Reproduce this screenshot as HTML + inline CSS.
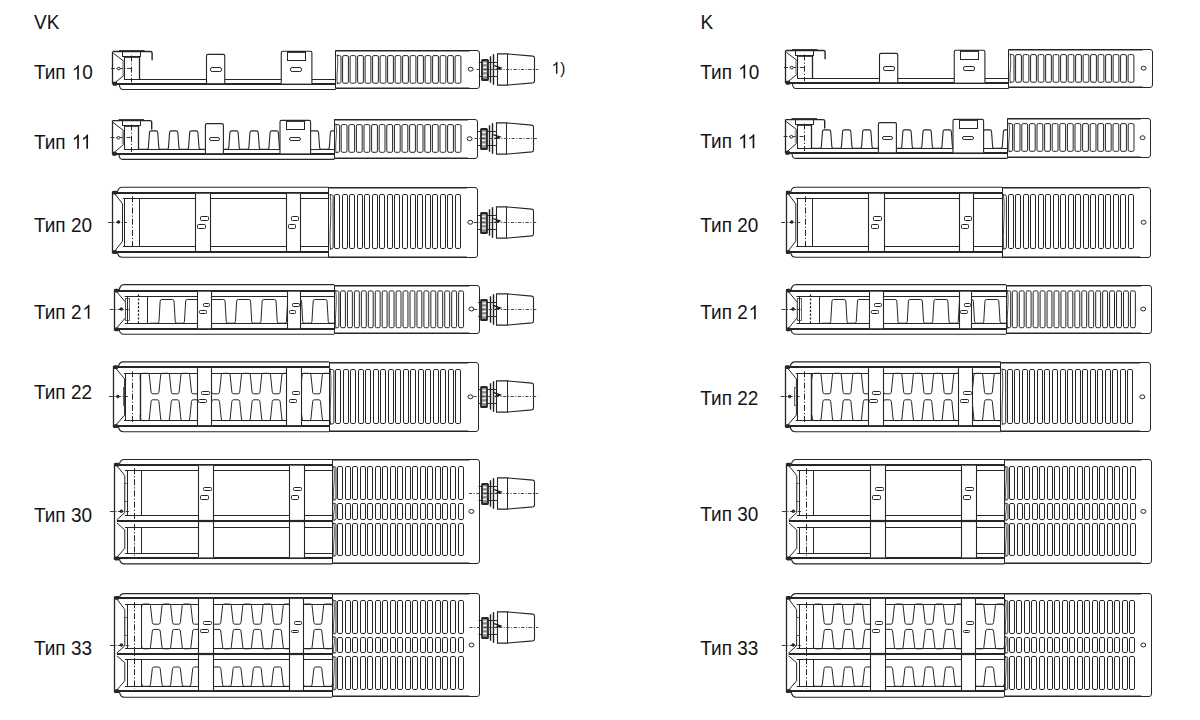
<!DOCTYPE html>
<html><head><meta charset="utf-8"><style>
html,body{margin:0;padding:0;background:#fff;}
body{width:1200px;height:720px;overflow:hidden;}
svg{display:block;}
text{font-family:"Liberation Sans",sans-serif;fill:#141414;}
</style></head><body>
<svg width="1200" height="720" viewBox="0 0 1200 720">
<line x1="124.4" y1="79.5" x2="335.8" y2="79.5" stroke="#262626" stroke-width="1.1"/>
<line x1="113.9" y1="84" x2="335.8" y2="84" stroke="#262626" stroke-width="2.2"/>
<path d="M119.4,84.7 Q119.9,89.5 122.9,89.5 L335.8,89.5" fill="none" stroke="#262626" stroke-width="1.1"/>
<rect x="112.6" y="81.7" width="4.5" height="4" rx="1" fill="#262626" stroke="#262626" stroke-width="0"/>
<line x1="112.5" y1="51.5" x2="112.5" y2="84.2" stroke="#262626" stroke-width="1.3"/>
<path d="M112.9,51.5 L150.5,51.5 Q152.1,51.5 152.1,53.1 L152.1,60.3" fill="none" stroke="#262626" stroke-width="1.4"/>
<line x1="119" y1="51" x2="144.5" y2="51" stroke="#262626" stroke-width="1.8"/>
<rect x="122.5" y="51.5" width="18" height="5" rx="0" fill="none" stroke="#262626" stroke-width="1"/>
<line x1="124.5" y1="57" x2="139.2" y2="57" stroke="#262626" stroke-width="1.7"/>
<line x1="124.5" y1="57" x2="124.5" y2="79.8" stroke="#262626" stroke-width="1"/>
<line x1="139.5" y1="57" x2="139.5" y2="79.8" stroke="#262626" stroke-width="1.3"/>
<line x1="131.5" y1="55.5" x2="131.5" y2="82.3" stroke="#262626" stroke-width="1" stroke-dasharray="6 2 1.2 2"/>
<path d="M113.5,53.4 L124,61.4 L124,75.3 L114.2,83.3" fill="none" stroke="#262626" stroke-width="1"/>
<rect x="122.1" y="61.5" width="1.8" height="13.5" fill="#aaa"/>
<line x1="111" y1="68.5" x2="131" y2="68.5" stroke="#262626" stroke-width="0.9" stroke-dasharray="4 1.5 1 1.5"/>
<ellipse cx="118.8" cy="68.6" rx="1.5" ry="1.3" fill="#fff" stroke="#262626" stroke-width="1"/>
<rect x="206.5" y="54.4" width="18.25" height="28.8" fill="#fff" stroke="none"/>
<path d="M206.5,83.2 L206.5,55.9 Q206.5,54.4 208,54.4 L223.25,54.4 Q224.75,54.4 224.75,55.9 L224.75,83.2" fill="none" stroke="#262626" stroke-width="1.1"/>
<rect x="210.5" y="67.5" width="11" height="4" rx="1.6" fill="none" stroke="#262626" stroke-width="1"/>
<rect x="281.25" y="51.25" width="30.65" height="32.35" fill="#fff" stroke="none"/>
<path d="M281.25,83.6 L281.25,52.75 Q281.25,51.25 282.75,51.25 L310.4,51.25 Q311.9,51.25 311.9,52.75 L311.9,83.6" fill="none" stroke="#262626" stroke-width="1.1"/>
<rect x="287.5" y="51.5" width="18" height="9" rx="0" fill="none" stroke="#262626" stroke-width="1"/>
<line x1="287.5" y1="52" x2="305" y2="52" stroke="#262626" stroke-width="1.8"/>
<rect x="290.5" y="67.5" width="11" height="4" rx="1.6" fill="none" stroke="#262626" stroke-width="1"/>
<path d="M335.5,50.5 L477,50.5 Q479.5,50.5 479.5,53 L479.5,86 Q479.5,88.5 477,88.5 L335.5,88.5 Z" fill="#fff" stroke="#262626" stroke-width="1"/>
<line x1="335.8" y1="50.8" x2="469.7" y2="50.8" stroke="#262626" stroke-width="1.4"/>
<line x1="335.8" y1="88.2" x2="469.7" y2="88.2" stroke="#262626" stroke-width="1.4"/>
<path d="M337,55.6 L339.5,55.6 Q341,55.6 341,57.1 L341,81.7 Q341,83.2 339.5,83.2 L337,83.2" fill="none" stroke="#262626" stroke-width="1"/>
<path d="M337,54.6 C339.2,63.88 335.8,74.92 337.4,84.2" fill="none" stroke="#333" stroke-width="0.9"/>
<rect x="342.6" y="55.6" width="5.8" height="27.6" rx="1.4" fill="none" stroke="#262626" stroke-width="1"/>
<rect x="350.1" y="55.6" width="5.8" height="27.6" rx="1.4" fill="none" stroke="#262626" stroke-width="1"/>
<rect x="357.6" y="55.6" width="5.8" height="27.6" rx="1.4" fill="none" stroke="#262626" stroke-width="1"/>
<rect x="365.1" y="55.6" width="5.8" height="27.6" rx="1.4" fill="none" stroke="#262626" stroke-width="1"/>
<rect x="372.6" y="55.6" width="5.8" height="27.6" rx="1.4" fill="none" stroke="#262626" stroke-width="1"/>
<rect x="380.1" y="55.6" width="5.8" height="27.6" rx="1.4" fill="none" stroke="#262626" stroke-width="1"/>
<rect x="387.6" y="55.6" width="5.8" height="27.6" rx="1.4" fill="none" stroke="#262626" stroke-width="1"/>
<rect x="395.1" y="55.6" width="5.8" height="27.6" rx="1.4" fill="none" stroke="#262626" stroke-width="1"/>
<rect x="402.6" y="55.6" width="5.8" height="27.6" rx="1.4" fill="none" stroke="#262626" stroke-width="1"/>
<rect x="410.1" y="55.6" width="5.8" height="27.6" rx="1.4" fill="none" stroke="#262626" stroke-width="1"/>
<rect x="417.6" y="55.6" width="5.8" height="27.6" rx="1.4" fill="none" stroke="#262626" stroke-width="1"/>
<rect x="425.1" y="55.6" width="5.8" height="27.6" rx="1.4" fill="none" stroke="#262626" stroke-width="1"/>
<rect x="432.6" y="55.6" width="5.8" height="27.6" rx="1.4" fill="none" stroke="#262626" stroke-width="1"/>
<rect x="440.1" y="55.6" width="5.8" height="27.6" rx="1.4" fill="none" stroke="#262626" stroke-width="1"/>
<rect x="447.6" y="55.6" width="5.8" height="27.6" rx="1.4" fill="none" stroke="#262626" stroke-width="1"/>
<rect x="455.1" y="55.6" width="5.8" height="27.6" rx="1.4" fill="none" stroke="#262626" stroke-width="1"/>
<ellipse cx="470.6" cy="69.2" rx="2.5" ry="1.95" fill="none" stroke="#262626" stroke-width="1"/>
<line x1="124" y1="149.5" x2="334.5" y2="149.5" stroke="#262626" stroke-width="1.1"/>
<line x1="113.5" y1="154" x2="334.5" y2="154" stroke="#262626" stroke-width="2.2"/>
<path d="M119,154.7 Q119.5,159.4 122.5,159.4 L334.5,159.4" fill="none" stroke="#262626" stroke-width="1.1"/>
<rect x="112.2" y="151.7" width="4.5" height="4" rx="1" fill="#262626" stroke="#262626" stroke-width="0"/>
<line x1="112.5" y1="120.6" x2="112.5" y2="154.2" stroke="#262626" stroke-width="1.3"/>
<path d="M112.5,120.6 L150.1,120.6 Q151.7,120.6 151.7,122.2 L151.7,129.4" fill="none" stroke="#262626" stroke-width="1.4"/>
<line x1="118.6" y1="120" x2="144.1" y2="120" stroke="#262626" stroke-width="1.8"/>
<rect x="122.5" y="120.5" width="18" height="5" rx="0" fill="none" stroke="#262626" stroke-width="1"/>
<line x1="124.1" y1="126" x2="138.8" y2="126" stroke="#262626" stroke-width="1.7"/>
<line x1="124.5" y1="126.1" x2="124.5" y2="149.4" stroke="#262626" stroke-width="1"/>
<line x1="138.5" y1="126.1" x2="138.5" y2="149.4" stroke="#262626" stroke-width="1.3"/>
<line x1="131.5" y1="124.6" x2="131.5" y2="151.9" stroke="#262626" stroke-width="1" stroke-dasharray="6 2 1.2 2"/>
<path d="M113.1,122.5 L123.6,130.5 L123.6,144.4 L113.8,152.9" fill="none" stroke="#262626" stroke-width="1"/>
<rect x="121.7" y="130.6" width="1.8" height="13.5" fill="#aaa"/>
<line x1="110.6" y1="137.5" x2="130.6" y2="137.5" stroke="#262626" stroke-width="0.9" stroke-dasharray="4 1.5 1 1.5"/>
<ellipse cx="118.4" cy="137.8" rx="1.5" ry="1.3" fill="#fff" stroke="#262626" stroke-width="1"/>
<path d="M138.85,149.4 L146.65,149.4 Q148.25,149.4 148.37,147.8 L149.48,132.5 Q149.6,130.9 151.2,130.9 L156,130.9 Q157.6,130.9 157.72,132.5 L158.83,147.8 Q158.95,149.4 160.55,149.4 L166.75,149.4 Q168.35,149.4 168.47,147.8 L169.58,132.5 Q169.7,130.9 171.3,130.9 L176.1,130.9 Q177.7,130.9 177.82,132.5 L178.93,147.8 Q179.05,149.4 180.65,149.4 L186.85,149.4 Q188.45,149.4 188.57,147.8 L189.68,132.5 Q189.8,130.9 191.4,130.9 L196.2,130.9 Q197.8,130.9 197.92,132.5 L199.03,147.8 Q199.15,149.4 200.75,149.4 L206.95,149.4 Q208.55,149.4 208.67,147.8 L209.78,132.5 Q209.9,130.9 211.5,130.9 L216.3,130.9 Q217.9,130.9 218.02,132.5 L219.13,147.8 Q219.25,149.4 220.85,149.4 L227.05,149.4 Q228.65,149.4 228.77,147.8 L229.88,132.5 Q230,130.9 231.6,130.9 L236.4,130.9 Q238,130.9 238.12,132.5 L239.23,147.8 Q239.35,149.4 240.95,149.4 L247.15,149.4 Q248.75,149.4 248.87,147.8 L249.98,132.5 Q250.1,130.9 251.7,130.9 L256.5,130.9 Q258.1,130.9 258.22,132.5 L259.33,147.8 Q259.45,149.4 261.05,149.4 L267.25,149.4 Q268.85,149.4 268.97,147.8 L270.08,132.5 Q270.2,130.9 271.8,130.9 L276.6,130.9 Q278.2,130.9 278.32,132.5 L279.43,147.8 Q279.55,149.4 281.15,149.4 L287.35,149.4 Q288.95,149.4 289.07,147.8 L290.18,132.5 Q290.3,130.9 291.9,130.9 L296.7,130.9 Q298.3,130.9 298.42,132.5 L299.53,147.8 Q299.65,149.4 301.25,149.4 L307.45,149.4 Q309.05,149.4 309.17,147.8 L310.28,132.5 Q310.4,130.9 312,130.9 L316.8,130.9 Q318.4,130.9 318.52,132.5 L319.63,147.8 Q319.75,149.4 321.35,149.4 L327.55,149.4 Q329.15,149.4 329.27,147.8 L330.38,132.5 Q330.5,130.9 332.1,130.9 L334.5,130.9" fill="none" stroke="#262626" stroke-width="1.1"/>
<rect x="205.4" y="123.6" width="18" height="29.6" fill="#fff" stroke="none"/>
<path d="M205.4,153.2 L205.4,125.1 Q205.4,123.6 206.9,123.6 L221.9,123.6 Q223.4,123.6 223.4,125.1 L223.4,153.2" fill="none" stroke="#262626" stroke-width="1.1"/>
<rect x="209.5" y="137.5" width="10" height="3" rx="1.6" fill="none" stroke="#262626" stroke-width="1"/>
<rect x="280" y="120.4" width="30.6" height="33" fill="#fff" stroke="none"/>
<path d="M280,153.4 L280,121.9 Q280,120.4 281.5,120.4 L309.1,120.4 Q310.6,120.4 310.6,121.9 L310.6,153.4" fill="none" stroke="#262626" stroke-width="1.1"/>
<rect x="286.5" y="120.5" width="18" height="9" rx="0" fill="none" stroke="#262626" stroke-width="1"/>
<line x1="286.6" y1="121" x2="304" y2="121" stroke="#262626" stroke-width="1.8"/>
<rect x="289.5" y="137.5" width="11" height="3" rx="1.6" fill="none" stroke="#262626" stroke-width="1"/>
<path d="M334.5,119.5 L475,119.5 Q477.5,119.5 477.5,122 L477.5,156 Q477.5,158.5 475,158.5 L334.5,158.5 Z" fill="#fff" stroke="#262626" stroke-width="1"/>
<line x1="334.5" y1="119.8" x2="467.8" y2="119.8" stroke="#262626" stroke-width="1.4"/>
<line x1="334.5" y1="158.2" x2="467.8" y2="158.2" stroke="#262626" stroke-width="1.4"/>
<path d="M335.7,124.6 L338.1,124.6 Q339.6,124.6 339.6,126.1 L339.6,150.8 Q339.6,152.3 338.1,152.3 L335.7,152.3" fill="none" stroke="#262626" stroke-width="1"/>
<path d="M335.7,123.6 C337.9,132.91 334.5,143.99 336.1,153.3" fill="none" stroke="#333" stroke-width="0.9"/>
<rect x="341.2" y="124.6" width="5.8" height="27.7" rx="1.4" fill="none" stroke="#262626" stroke-width="1"/>
<rect x="348.8" y="124.6" width="5.8" height="27.7" rx="1.4" fill="none" stroke="#262626" stroke-width="1"/>
<rect x="356.4" y="124.6" width="5.8" height="27.7" rx="1.4" fill="none" stroke="#262626" stroke-width="1"/>
<rect x="364" y="124.6" width="5.8" height="27.7" rx="1.4" fill="none" stroke="#262626" stroke-width="1"/>
<rect x="371.6" y="124.6" width="5.8" height="27.7" rx="1.4" fill="none" stroke="#262626" stroke-width="1"/>
<rect x="379.2" y="124.6" width="5.8" height="27.7" rx="1.4" fill="none" stroke="#262626" stroke-width="1"/>
<rect x="386.8" y="124.6" width="5.8" height="27.7" rx="1.4" fill="none" stroke="#262626" stroke-width="1"/>
<rect x="394.4" y="124.6" width="5.8" height="27.7" rx="1.4" fill="none" stroke="#262626" stroke-width="1"/>
<rect x="402" y="124.6" width="5.8" height="27.7" rx="1.4" fill="none" stroke="#262626" stroke-width="1"/>
<rect x="409.6" y="124.6" width="5.8" height="27.7" rx="1.4" fill="none" stroke="#262626" stroke-width="1"/>
<rect x="417.2" y="124.6" width="5.8" height="27.7" rx="1.4" fill="none" stroke="#262626" stroke-width="1"/>
<rect x="424.8" y="124.6" width="5.8" height="27.7" rx="1.4" fill="none" stroke="#262626" stroke-width="1"/>
<rect x="432.4" y="124.6" width="5.8" height="27.7" rx="1.4" fill="none" stroke="#262626" stroke-width="1"/>
<rect x="440" y="124.6" width="5.8" height="27.7" rx="1.4" fill="none" stroke="#262626" stroke-width="1"/>
<rect x="447.6" y="124.6" width="5.8" height="27.7" rx="1.4" fill="none" stroke="#262626" stroke-width="1"/>
<rect x="455.2" y="124.6" width="5.8" height="27.7" rx="1.4" fill="none" stroke="#262626" stroke-width="1"/>
<ellipse cx="469.6" cy="138.7" rx="2.5" ry="1.95" fill="none" stroke="#262626" stroke-width="1"/>
<path d="M117.4,192.75 Q117.9,187.3 122.4,187.3 L328.9,187.3" fill="none" stroke="#262626" stroke-width="1.1"/>
<path d="M117.4,252 Q117.9,257.3 122.4,257.3 L328.9,257.3" fill="none" stroke="#262626" stroke-width="1.1"/>
<line x1="114.9" y1="193" x2="328.9" y2="193" stroke="#262626" stroke-width="2.2"/>
<line x1="114.9" y1="252" x2="328.9" y2="252" stroke="#262626" stroke-width="2.2"/>
<line x1="122.9" y1="198.5" x2="328.9" y2="198.5" stroke="#262626" stroke-width="1"/>
<line x1="122.9" y1="246.5" x2="328.9" y2="246.5" stroke="#262626" stroke-width="1"/>
<line x1="112.5" y1="191.25" x2="112.5" y2="253.5" stroke="#262626" stroke-width="1.3"/>
<rect x="112.7" y="190.75" width="4.5" height="3.8" rx="1.2" fill="#262626" stroke="#262626" stroke-width="0"/>
<rect x="112.7" y="250.2" width="4.5" height="3.8" rx="1.2" fill="#262626" stroke="#262626" stroke-width="0"/>
<path d="M114.4,193.25 L122.5,203.8 L122.5,241.2 L114.4,251.5" fill="none" stroke="#262626" stroke-width="1"/>
<line x1="124.5" y1="198.3" x2="124.5" y2="246.7" stroke="#262626" stroke-width="1"/>
<line x1="132.5" y1="196.3" x2="132.5" y2="249.2" stroke="#262626" stroke-width="1" stroke-dasharray="6 2 1.2 2"/>
<line x1="139.5" y1="198.3" x2="139.5" y2="246.7" stroke="#262626" stroke-width="1"/>
<line x1="107.9" y1="222.5" x2="126.9" y2="222.5" stroke="#262626" stroke-width="0.9" stroke-dasharray="4 1.5 1 1.5"/>
<ellipse cx="118.5" cy="222" rx="1.3" ry="1.3" fill="#262626" stroke="#262626" stroke-width="1"/>
<rect x="195.5" y="193.75" width="15.2" height="57.25" fill="#fff" stroke="none"/>
<line x1="195.5" y1="193.75" x2="195.5" y2="251" stroke="#262626" stroke-width="1.1"/>
<line x1="210.5" y1="193.75" x2="210.5" y2="251" stroke="#262626" stroke-width="1.1"/>
<rect x="200.5" y="216.5" width="8" height="4" rx="0.9" fill="none" stroke="#262626" stroke-width="1"/>
<rect x="197.5" y="224.5" width="8" height="4" rx="0.9" fill="none" stroke="#262626" stroke-width="1"/>
<rect x="286.6" y="193.75" width="14" height="57.25" fill="#fff" stroke="none"/>
<line x1="286.5" y1="193.75" x2="286.5" y2="251" stroke="#262626" stroke-width="1.1"/>
<line x1="300.5" y1="193.75" x2="300.5" y2="251" stroke="#262626" stroke-width="1.1"/>
<rect x="291.5" y="216.5" width="7" height="4" rx="0.9" fill="none" stroke="#262626" stroke-width="1"/>
<rect x="288.5" y="224.5" width="7" height="4" rx="0.9" fill="none" stroke="#262626" stroke-width="1"/>
<path d="M328.5,187.5 L475,187.5 Q477.5,187.5 477.5,190 L477.5,255 Q477.5,257.5 475,257.5 L328.5,257.5 Z" fill="#fff" stroke="#262626" stroke-width="1"/>
<line x1="328.9" y1="187.8" x2="467" y2="187.8" stroke="#262626" stroke-width="1.4"/>
<line x1="328.9" y1="257.2" x2="467" y2="257.2" stroke="#262626" stroke-width="1.4"/>
<path d="M330.1,194.9 L331.6,194.9 Q333.1,194.9 333.1,196.4 L333.1,247.3 Q333.1,248.8 331.6,248.8 L330.1,248.8" fill="none" stroke="#262626" stroke-width="1"/>
<path d="M330.1,193.9 C332.3,211.07 328.9,232.63 330.5,249.8" fill="none" stroke="#333" stroke-width="0.9"/>
<rect x="334.5" y="194.5" width="5" height="54" rx="1.4" fill="none" stroke="#262626" stroke-width="1"/>
<rect x="342.5" y="194.5" width="5" height="54" rx="1.4" fill="none" stroke="#262626" stroke-width="1"/>
<rect x="349.5" y="194.5" width="5" height="54" rx="1.4" fill="none" stroke="#262626" stroke-width="1"/>
<rect x="357.5" y="194.5" width="5" height="54" rx="1.4" fill="none" stroke="#262626" stroke-width="1"/>
<rect x="364.5" y="194.5" width="5" height="54" rx="1.4" fill="none" stroke="#262626" stroke-width="1"/>
<rect x="372.5" y="194.5" width="5" height="54" rx="1.4" fill="none" stroke="#262626" stroke-width="1"/>
<rect x="379.5" y="194.5" width="5" height="54" rx="1.4" fill="none" stroke="#262626" stroke-width="1"/>
<rect x="387.5" y="194.5" width="5" height="54" rx="1.4" fill="none" stroke="#262626" stroke-width="1"/>
<rect x="394.5" y="194.5" width="5" height="54" rx="1.4" fill="none" stroke="#262626" stroke-width="1"/>
<rect x="402.5" y="194.5" width="5" height="54" rx="1.4" fill="none" stroke="#262626" stroke-width="1"/>
<rect x="410.5" y="194.5" width="5" height="54" rx="1.4" fill="none" stroke="#262626" stroke-width="1"/>
<rect x="417.5" y="194.5" width="5" height="54" rx="1.4" fill="none" stroke="#262626" stroke-width="1"/>
<rect x="425.5" y="194.5" width="5" height="54" rx="1.4" fill="none" stroke="#262626" stroke-width="1"/>
<rect x="432.5" y="194.5" width="5" height="54" rx="1.4" fill="none" stroke="#262626" stroke-width="1"/>
<rect x="440.5" y="194.5" width="5" height="54" rx="1.4" fill="none" stroke="#262626" stroke-width="1"/>
<rect x="447.5" y="194.5" width="5" height="54" rx="1.4" fill="none" stroke="#262626" stroke-width="1"/>
<rect x="455.5" y="194.5" width="5" height="54" rx="1.4" fill="none" stroke="#262626" stroke-width="1"/>
<ellipse cx="470.3" cy="222.3" rx="2.5" ry="1.95" fill="none" stroke="#262626" stroke-width="1"/>
<path d="M119.2,290.7 Q119.7,284.6 124.2,284.6 L334.3,284.6" fill="none" stroke="#262626" stroke-width="1.1"/>
<path d="M119.2,329.2 Q119.7,334.2 124.2,334.2 L334.3,334.2" fill="none" stroke="#262626" stroke-width="1.1"/>
<line x1="116.7" y1="291" x2="334.3" y2="291" stroke="#262626" stroke-width="2.2"/>
<line x1="116.7" y1="329" x2="334.3" y2="329" stroke="#262626" stroke-width="2.2"/>
<line x1="124.7" y1="296.5" x2="334.3" y2="296.5" stroke="#262626" stroke-width="1"/>
<line x1="124.7" y1="323.5" x2="334.3" y2="323.5" stroke="#262626" stroke-width="1"/>
<line x1="114.5" y1="289.2" x2="114.5" y2="330.7" stroke="#262626" stroke-width="1.3"/>
<rect x="114.5" y="288.7" width="4.5" height="3.8" rx="1.2" fill="#262626" stroke="#262626" stroke-width="0"/>
<rect x="114.5" y="327.4" width="4.5" height="3.8" rx="1.2" fill="#262626" stroke="#262626" stroke-width="0"/>
<path d="M116.2,291.2 L125.5,302.1 L125.5,317.7 L116.2,328.7" fill="none" stroke="#262626" stroke-width="1"/>
<rect x="125.5" y="298.5" width="4" height="22" rx="0" fill="none" stroke="#555" stroke-width="0.9"/>
<line x1="127.5" y1="296.6" x2="127.5" y2="323.2" stroke="#262626" stroke-width="1"/>
<line x1="138.5" y1="294.6" x2="138.5" y2="323.7" stroke="#262626" stroke-width="1.3" stroke-dasharray="2.2 1.6"/>
<line x1="147.5" y1="296.6" x2="147.5" y2="323.2" stroke="#262626" stroke-width="1"/>
<line x1="109.7" y1="309.5" x2="128.7" y2="309.5" stroke="#262626" stroke-width="0.9" stroke-dasharray="4 1.5 1 1.5"/>
<ellipse cx="121.3" cy="309" rx="1.3" ry="1.3" fill="#262626" stroke="#262626" stroke-width="1"/>
<path d="M150,323.2 L157.25,323.2 Q158.85,323.2 158.94,321.6 L160.16,301.1 Q160.25,299.5 161.85,299.5 L172.35,299.5 Q173.95,299.5 174.04,301.1 L175.26,321.6 Q175.35,323.2 176.95,323.2 L182.75,323.2 Q184.35,323.2 184.44,321.6 L185.66,301.1 Q185.75,299.5 187.35,299.5 L197.85,299.5 Q199.45,299.5 199.54,301.1 L200.76,321.6 Q200.85,323.2 202.45,323.2 L208.25,323.2 Q209.85,323.2 209.94,321.6 L211.16,301.1 Q211.25,299.5 212.85,299.5 L223.35,299.5 Q224.95,299.5 225.04,301.1 L226.26,321.6 Q226.35,323.2 227.95,323.2 L233.75,323.2 Q235.35,323.2 235.44,321.6 L236.66,301.1 Q236.75,299.5 238.35,299.5 L248.85,299.5 Q250.45,299.5 250.54,301.1 L251.76,321.6 Q251.85,323.2 253.45,323.2 L259.25,323.2 Q260.85,323.2 260.94,321.6 L262.16,301.1 Q262.25,299.5 263.85,299.5 L274.35,299.5 Q275.95,299.5 276.04,301.1 L277.26,321.6 Q277.35,323.2 278.95,323.2 L284.75,323.2 Q286.35,323.2 286.44,321.6 L287.66,301.1 Q287.75,299.5 289.35,299.5 L299.85,299.5 Q301.45,299.5 301.54,301.1 L302.76,321.6 Q302.85,323.2 304.45,323.2 L310.25,323.2 Q311.85,323.2 311.94,321.6 L313.16,301.1 Q313.25,299.5 314.85,299.5 L325.35,299.5 Q326.95,299.5 327.04,301.1 L328.26,321.6 Q328.35,323.2 329.95,323.2 L334.3,323.2" fill="none" stroke="#262626" stroke-width="1"/>
<rect x="197.6" y="291.7" width="13.6" height="36.5" fill="#fff" stroke="none"/>
<line x1="197.5" y1="291.7" x2="197.5" y2="328.2" stroke="#262626" stroke-width="1.1"/>
<line x1="211.5" y1="291.7" x2="211.5" y2="328.2" stroke="#262626" stroke-width="1.1"/>
<rect x="203.5" y="303.5" width="6" height="3" rx="0.9" fill="none" stroke="#262626" stroke-width="1"/>
<rect x="199.5" y="310.5" width="7" height="3" rx="0.9" fill="none" stroke="#262626" stroke-width="1"/>
<rect x="287.4" y="291.7" width="12.6" height="36.5" fill="#fff" stroke="none"/>
<line x1="287.5" y1="291.7" x2="287.5" y2="328.2" stroke="#262626" stroke-width="1.1"/>
<line x1="300.5" y1="291.7" x2="300.5" y2="328.2" stroke="#262626" stroke-width="1.1"/>
<rect x="292.5" y="303.5" width="7" height="3" rx="0.9" fill="none" stroke="#262626" stroke-width="1"/>
<rect x="289.5" y="310.5" width="6" height="3" rx="0.9" fill="none" stroke="#262626" stroke-width="1"/>
<path d="M334.5,285.5 L477,285.5 Q479.5,285.5 479.5,288 L479.5,331 Q479.5,333.5 477,333.5 L334.5,333.5 Z" fill="#fff" stroke="#262626" stroke-width="1"/>
<line x1="334.3" y1="285.8" x2="469.4" y2="285.8" stroke="#262626" stroke-width="1.4"/>
<line x1="334.3" y1="333.2" x2="469.4" y2="333.2" stroke="#262626" stroke-width="1.4"/>
<path d="M335.5,290.9 L337.4,290.9 Q338.9,290.9 338.9,292.4 L338.9,326.2 Q338.9,327.7 337.4,327.7 L335.5,327.7" fill="none" stroke="#262626" stroke-width="1"/>
<path d="M335.5,289.9 C337.7,301.94 334.3,316.66 335.9,328.7" fill="none" stroke="#333" stroke-width="0.9"/>
<rect x="340.5" y="290.9" width="4.9" height="36.8" rx="1.4" fill="none" stroke="#262626" stroke-width="1"/>
<rect x="347.45" y="290.9" width="4.9" height="36.8" rx="1.4" fill="none" stroke="#262626" stroke-width="1"/>
<rect x="354.4" y="290.9" width="4.9" height="36.8" rx="1.4" fill="none" stroke="#262626" stroke-width="1"/>
<rect x="361.35" y="290.9" width="4.9" height="36.8" rx="1.4" fill="none" stroke="#262626" stroke-width="1"/>
<rect x="368.3" y="290.9" width="4.9" height="36.8" rx="1.4" fill="none" stroke="#262626" stroke-width="1"/>
<rect x="375.25" y="290.9" width="4.9" height="36.8" rx="1.4" fill="none" stroke="#262626" stroke-width="1"/>
<rect x="382.2" y="290.9" width="4.9" height="36.8" rx="1.4" fill="none" stroke="#262626" stroke-width="1"/>
<rect x="389.15" y="290.9" width="4.9" height="36.8" rx="1.4" fill="none" stroke="#262626" stroke-width="1"/>
<rect x="396.1" y="290.9" width="4.9" height="36.8" rx="1.4" fill="none" stroke="#262626" stroke-width="1"/>
<rect x="403.05" y="290.9" width="4.9" height="36.8" rx="1.4" fill="none" stroke="#262626" stroke-width="1"/>
<rect x="410" y="290.9" width="4.9" height="36.8" rx="1.4" fill="none" stroke="#262626" stroke-width="1"/>
<rect x="416.95" y="290.9" width="4.9" height="36.8" rx="1.4" fill="none" stroke="#262626" stroke-width="1"/>
<rect x="423.9" y="290.9" width="4.9" height="36.8" rx="1.4" fill="none" stroke="#262626" stroke-width="1"/>
<rect x="430.85" y="290.9" width="4.9" height="36.8" rx="1.4" fill="none" stroke="#262626" stroke-width="1"/>
<rect x="437.8" y="290.9" width="4.9" height="36.8" rx="1.4" fill="none" stroke="#262626" stroke-width="1"/>
<rect x="444.75" y="290.9" width="4.9" height="36.8" rx="1.4" fill="none" stroke="#262626" stroke-width="1"/>
<rect x="451.7" y="290.9" width="4.9" height="36.8" rx="1.4" fill="none" stroke="#262626" stroke-width="1"/>
<rect x="458.65" y="290.9" width="4.9" height="36.8" rx="1.4" fill="none" stroke="#262626" stroke-width="1"/>
<ellipse cx="471.4" cy="309" rx="2.5" ry="1.95" fill="none" stroke="#262626" stroke-width="1"/>
<path d="M118.4,367.2 Q118.9,361.9 123.4,361.9 L329,361.9" fill="none" stroke="#262626" stroke-width="1.1"/>
<path d="M118.4,426.1 Q118.9,431.7 123.4,431.7 L329,431.7" fill="none" stroke="#262626" stroke-width="1.1"/>
<line x1="115.9" y1="367" x2="329" y2="367" stroke="#262626" stroke-width="2.2"/>
<line x1="115.9" y1="426" x2="329" y2="426" stroke="#262626" stroke-width="2.2"/>
<line x1="123.9" y1="373.5" x2="329" y2="373.5" stroke="#262626" stroke-width="1"/>
<line x1="123.9" y1="420.5" x2="329" y2="420.5" stroke="#262626" stroke-width="1"/>
<line x1="113.5" y1="365.7" x2="113.5" y2="427.6" stroke="#262626" stroke-width="1.3"/>
<rect x="113.7" y="365.2" width="4.5" height="3.8" rx="1.2" fill="#262626" stroke="#262626" stroke-width="0"/>
<rect x="113.7" y="424.3" width="4.5" height="3.8" rx="1.2" fill="#262626" stroke="#262626" stroke-width="0"/>
<path d="M115.4,367.7 L124.6,378.8 L124.6,415.1 L115.4,425.6" fill="none" stroke="#262626" stroke-width="1"/>
<rect x="123.5" y="387.5" width="2" height="18" rx="0" fill="none" stroke="#555" stroke-width="0.9"/>
<line x1="125.5" y1="373.3" x2="125.5" y2="420.6" stroke="#262626" stroke-width="1"/>
<line x1="132.5" y1="371.3" x2="132.5" y2="423.1" stroke="#262626" stroke-width="1" stroke-dasharray="6 2 1.2 2"/>
<line x1="140.5" y1="373.3" x2="140.5" y2="420.6" stroke="#262626" stroke-width="1.4"/>
<line x1="108.9" y1="396.5" x2="127.9" y2="396.5" stroke="#262626" stroke-width="0.9" stroke-dasharray="4 1.5 1 1.5"/>
<ellipse cx="117.8" cy="396.5" rx="1.3" ry="1.3" fill="#262626" stroke="#262626" stroke-width="1"/>
<path d="M140.1,378.67 L140.49,374.89 Q140.65,373.3 142.25,373.3 L147.55,373.3 Q149.15,373.3 149.31,374.89 L151.09,392.21 Q151.25,393.8 152.85,393.8 L157.15,393.8 Q158.75,393.8 158.91,392.21 L160.69,374.89 Q160.85,373.3 162.45,373.3 L167.75,373.3 Q169.35,373.3 169.51,374.89 L171.29,392.21 Q171.45,393.8 173.05,393.8 L177.35,393.8 Q178.95,393.8 179.11,392.21 L180.89,374.89 Q181.05,373.3 182.65,373.3 L187.95,373.3 Q189.55,373.3 189.71,374.89 L191.49,392.21 Q191.65,393.8 193.25,393.8 L197.55,393.8 Q199.15,393.8 199.31,392.21 L201.09,374.89 Q201.25,373.3 202.85,373.3 L208.15,373.3 Q209.75,373.3 209.91,374.89 L211.69,392.21 Q211.85,393.8 213.45,393.8 L217.75,393.8 Q219.35,393.8 219.51,392.21 L221.29,374.89 Q221.45,373.3 223.05,373.3 L228.35,373.3 Q229.95,373.3 230.11,374.89 L231.89,392.21 Q232.05,393.8 233.65,393.8 L237.95,393.8 Q239.55,393.8 239.71,392.21 L241.49,374.89 Q241.65,373.3 243.25,373.3 L248.55,373.3 Q250.15,373.3 250.31,374.89 L252.09,392.21 Q252.25,393.8 253.85,393.8 L258.15,393.8 Q259.75,393.8 259.91,392.21 L261.69,374.89 Q261.85,373.3 263.45,373.3 L268.75,373.3 Q270.35,373.3 270.51,374.89 L272.29,392.21 Q272.45,393.8 274.05,393.8 L278.35,393.8 Q279.95,393.8 280.11,392.21 L281.89,374.89 Q282.05,373.3 283.65,373.3 L288.95,373.3 Q290.55,373.3 290.71,374.89 L292.49,392.21 Q292.65,393.8 294.25,393.8 L298.55,393.8 Q300.15,393.8 300.31,392.21 L302.09,374.89 Q302.25,373.3 303.85,373.3 L309.15,373.3 Q310.75,373.3 310.91,374.89 L312.69,392.21 Q312.85,393.8 314.45,393.8 L318.75,393.8 Q320.35,393.8 320.51,392.21 L322.29,374.89 Q322.45,373.3 324.05,373.3 L329,373.3" fill="none" stroke="#262626" stroke-width="1"/>
<path d="M140.1,415.15 L140.49,419.01 Q140.65,420.6 142.25,420.6 L147.55,420.6 Q149.15,420.6 149.31,419.01 L151.09,401.39 Q151.25,399.8 152.85,399.8 L157.15,399.8 Q158.75,399.8 158.91,401.39 L160.69,419.01 Q160.85,420.6 162.45,420.6 L167.75,420.6 Q169.35,420.6 169.51,419.01 L171.29,401.39 Q171.45,399.8 173.05,399.8 L177.35,399.8 Q178.95,399.8 179.11,401.39 L180.89,419.01 Q181.05,420.6 182.65,420.6 L187.95,420.6 Q189.55,420.6 189.71,419.01 L191.49,401.39 Q191.65,399.8 193.25,399.8 L197.55,399.8 Q199.15,399.8 199.31,401.39 L201.09,419.01 Q201.25,420.6 202.85,420.6 L208.15,420.6 Q209.75,420.6 209.91,419.01 L211.69,401.39 Q211.85,399.8 213.45,399.8 L217.75,399.8 Q219.35,399.8 219.51,401.39 L221.29,419.01 Q221.45,420.6 223.05,420.6 L228.35,420.6 Q229.95,420.6 230.11,419.01 L231.89,401.39 Q232.05,399.8 233.65,399.8 L237.95,399.8 Q239.55,399.8 239.71,401.39 L241.49,419.01 Q241.65,420.6 243.25,420.6 L248.55,420.6 Q250.15,420.6 250.31,419.01 L252.09,401.39 Q252.25,399.8 253.85,399.8 L258.15,399.8 Q259.75,399.8 259.91,401.39 L261.69,419.01 Q261.85,420.6 263.45,420.6 L268.75,420.6 Q270.35,420.6 270.51,419.01 L272.29,401.39 Q272.45,399.8 274.05,399.8 L278.35,399.8 Q279.95,399.8 280.11,401.39 L281.89,419.01 Q282.05,420.6 283.65,420.6 L288.95,420.6 Q290.55,420.6 290.71,419.01 L292.49,401.39 Q292.65,399.8 294.25,399.8 L298.55,399.8 Q300.15,399.8 300.31,401.39 L302.09,419.01 Q302.25,420.6 303.85,420.6 L309.15,420.6 Q310.75,420.6 310.91,419.01 L312.69,401.39 Q312.85,399.8 314.45,399.8 L318.75,399.8 Q320.35,399.8 320.51,401.39 L322.29,419.01 Q322.45,420.6 324.05,420.6 L329,420.6" fill="none" stroke="#262626" stroke-width="1"/>
<rect x="197" y="368.2" width="14.3" height="56.9" fill="#fff" stroke="none"/>
<line x1="197.5" y1="368.2" x2="197.5" y2="425.1" stroke="#262626" stroke-width="1.1"/>
<line x1="211.5" y1="368.2" x2="211.5" y2="425.1" stroke="#262626" stroke-width="1.1"/>
<rect x="201.5" y="391.5" width="8" height="3" rx="0.9" fill="none" stroke="#262626" stroke-width="1"/>
<rect x="198.5" y="399.5" width="8" height="3" rx="0.9" fill="none" stroke="#262626" stroke-width="1"/>
<rect x="286.6" y="368.2" width="14.4" height="56.9" fill="#fff" stroke="none"/>
<line x1="286.5" y1="368.2" x2="286.5" y2="425.1" stroke="#262626" stroke-width="1.1"/>
<line x1="301.5" y1="368.2" x2="301.5" y2="425.1" stroke="#262626" stroke-width="1.1"/>
<rect x="292.5" y="391.5" width="7" height="3" rx="0.9" fill="none" stroke="#262626" stroke-width="1"/>
<rect x="289.5" y="399.5" width="7" height="3" rx="0.9" fill="none" stroke="#262626" stroke-width="1"/>
<path d="M329.5,362.5 L476,362.5 Q478.5,362.5 478.5,365 L478.5,429 Q478.5,431.5 476,431.5 L329.5,431.5 Z" fill="#fff" stroke="#262626" stroke-width="1"/>
<line x1="329" y1="362.8" x2="468.3" y2="362.8" stroke="#262626" stroke-width="1.4"/>
<line x1="329" y1="431.2" x2="468.3" y2="431.2" stroke="#262626" stroke-width="1.4"/>
<path d="M330.2,369.5 L332.4,369.5 Q333.9,369.5 333.9,371 L333.9,422.4 Q333.9,423.9 332.4,423.9 L330.2,423.9" fill="none" stroke="#262626" stroke-width="1"/>
<path d="M330.2,368.5 C332.4,385.82 329,407.58 330.6,424.9" fill="none" stroke="#333" stroke-width="0.9"/>
<rect x="335.5" y="369.5" width="5" height="54" rx="1.4" fill="none" stroke="#262626" stroke-width="1"/>
<rect x="343.5" y="369.5" width="5" height="54" rx="1.4" fill="none" stroke="#262626" stroke-width="1"/>
<rect x="350.5" y="369.5" width="5" height="54" rx="1.4" fill="none" stroke="#262626" stroke-width="1"/>
<rect x="358.5" y="369.5" width="5" height="54" rx="1.4" fill="none" stroke="#262626" stroke-width="1"/>
<rect x="365.5" y="369.5" width="5" height="54" rx="1.4" fill="none" stroke="#262626" stroke-width="1"/>
<rect x="373.5" y="369.5" width="5" height="54" rx="1.4" fill="none" stroke="#262626" stroke-width="1"/>
<rect x="380.5" y="369.5" width="5" height="54" rx="1.4" fill="none" stroke="#262626" stroke-width="1"/>
<rect x="388.5" y="369.5" width="5" height="54" rx="1.4" fill="none" stroke="#262626" stroke-width="1"/>
<rect x="395.5" y="369.5" width="5" height="54" rx="1.4" fill="none" stroke="#262626" stroke-width="1"/>
<rect x="403.5" y="369.5" width="5" height="54" rx="1.4" fill="none" stroke="#262626" stroke-width="1"/>
<rect x="410.5" y="369.5" width="5" height="54" rx="1.4" fill="none" stroke="#262626" stroke-width="1"/>
<rect x="418.5" y="369.5" width="5" height="54" rx="1.4" fill="none" stroke="#262626" stroke-width="1"/>
<rect x="425.5" y="369.5" width="5" height="54" rx="1.4" fill="none" stroke="#262626" stroke-width="1"/>
<rect x="433.5" y="369.5" width="5" height="54" rx="1.4" fill="none" stroke="#262626" stroke-width="1"/>
<rect x="440.5" y="369.5" width="5" height="54" rx="1.4" fill="none" stroke="#262626" stroke-width="1"/>
<rect x="448.5" y="369.5" width="5" height="54" rx="1.4" fill="none" stroke="#262626" stroke-width="1"/>
<rect x="455.5" y="369.5" width="5" height="54" rx="1.4" fill="none" stroke="#262626" stroke-width="1"/>
<ellipse cx="470.5" cy="396.8" rx="2.5" ry="1.95" fill="none" stroke="#262626" stroke-width="1"/>
<path d="M119.4,464.7 Q119.9,459.5 124.4,459.5 L332.4,459.5" fill="none" stroke="#262626" stroke-width="1.1"/>
<path d="M119.4,558.4 Q119.9,563.9 124.4,563.9 L332.4,563.9" fill="none" stroke="#262626" stroke-width="1.1"/>
<line x1="116.9" y1="465" x2="332.4" y2="465" stroke="#262626" stroke-width="2.2"/>
<line x1="116.9" y1="558" x2="332.4" y2="558" stroke="#262626" stroke-width="2.2"/>
<line x1="124.9" y1="470.5" x2="332.4" y2="470.5" stroke="#262626" stroke-width="1"/>
<line x1="124.9" y1="553.5" x2="213.6" y2="553.5" stroke="#262626" stroke-width="1"/>
<line x1="289" y1="553.5" x2="332.4" y2="553.5" stroke="#262626" stroke-width="1"/>
<line x1="124.9" y1="515.5" x2="332.4" y2="515.5" stroke="#262626" stroke-width="1"/>
<line x1="116.9" y1="521" x2="332.4" y2="521" stroke="#262626" stroke-width="2.2"/>
<line x1="124.9" y1="527.5" x2="332.4" y2="527.5" stroke="#262626" stroke-width="1"/>
<line x1="114.5" y1="463.2" x2="114.5" y2="559.9" stroke="#262626" stroke-width="1.3"/>
<rect x="114.7" y="462.7" width="4.5" height="3.8" rx="1.2" fill="#262626" stroke="#262626" stroke-width="0"/>
<rect x="114.7" y="556.6" width="4.5" height="3.8" rx="1.2" fill="#262626" stroke="#262626" stroke-width="0"/>
<path d="M116.4,465.2 L124.8,475.6 L124.8,512.6 L116.9,519.8" fill="none" stroke="#262626" stroke-width="1"/>
<path d="M116.9,522.8 L124.8,530 L124.8,548.3 L116.4,557.9" fill="none" stroke="#262626" stroke-width="1"/>
<rect x="124.5" y="483.5" width="3" height="18" rx="0" fill="none" stroke="#555" stroke-width="0.9"/>
<line x1="127.5" y1="470.1" x2="127.5" y2="515.6" stroke="#262626" stroke-width="1"/>
<line x1="127.5" y1="527" x2="127.5" y2="553.8" stroke="#262626" stroke-width="1"/>
<line x1="134.5" y1="468.1" x2="134.5" y2="556.3" stroke="#262626" stroke-width="1" stroke-dasharray="6 2 1.2 2"/>
<line x1="141.5" y1="470.1" x2="141.5" y2="515.6" stroke="#262626" stroke-width="1"/>
<line x1="141.5" y1="527" x2="141.5" y2="553.8" stroke="#262626" stroke-width="1"/>
<line x1="109.9" y1="511.5" x2="128.9" y2="511.5" stroke="#262626" stroke-width="0.9" stroke-dasharray="4 1.5 1 1.5"/>
<ellipse cx="121.3" cy="511.2" rx="1.3" ry="1.3" fill="#262626" stroke="#262626" stroke-width="1"/>
<rect x="198" y="465.7" width="15.6" height="91.7" fill="#fff" stroke="none"/>
<line x1="198.5" y1="465.7" x2="198.5" y2="557.4" stroke="#262626" stroke-width="1.1"/>
<line x1="213.5" y1="465.7" x2="213.5" y2="557.4" stroke="#262626" stroke-width="1.1"/>
<rect x="203.5" y="487.5" width="8" height="3" rx="0.9" fill="none" stroke="#262626" stroke-width="1"/>
<rect x="200.5" y="495.5" width="8" height="4" rx="0.9" fill="none" stroke="#262626" stroke-width="1"/>
<line x1="198" y1="521" x2="213.6" y2="521" stroke="#262626" stroke-width="2.2"/>
<rect x="289" y="465.7" width="15" height="91.7" fill="#fff" stroke="none"/>
<line x1="289.5" y1="465.7" x2="289.5" y2="557.4" stroke="#262626" stroke-width="1.1"/>
<line x1="304.5" y1="465.7" x2="304.5" y2="557.4" stroke="#262626" stroke-width="1.1"/>
<rect x="293.5" y="487.5" width="8" height="3" rx="0.9" fill="none" stroke="#262626" stroke-width="1"/>
<rect x="291.5" y="495.5" width="7" height="4" rx="0.9" fill="none" stroke="#262626" stroke-width="1"/>
<line x1="289" y1="521" x2="304" y2="521" stroke="#262626" stroke-width="2.2"/>
<path d="M332.5,459.5 L477,459.5 Q479.5,459.5 479.5,462 L479.5,561 Q479.5,563.5 477,563.5 L332.5,563.5 Z" fill="#fff" stroke="#262626" stroke-width="1"/>
<line x1="332.4" y1="459.8" x2="469.6" y2="459.8" stroke="#262626" stroke-width="1.4"/>
<line x1="332.4" y1="563.2" x2="469.6" y2="563.2" stroke="#262626" stroke-width="1.4"/>
<path d="M333.6,466.9 L334.8,466.9 Q336,466.9 336,468.1 L336,498.7 Q336,499.9 334.8,499.9 L333.6,499.9" fill="none" stroke="#262626" stroke-width="1"/>
<path d="M333.6,465.9 C335.8,476.8 332.4,490 334,500.9" fill="none" stroke="#333" stroke-width="0.9"/>
<path d="M333.6,503.5 L334.8,503.5 Q336,503.5 336,504.7 L336,518.7 Q336,519.9 334.8,519.9 L333.6,519.9" fill="none" stroke="#262626" stroke-width="1"/>
<path d="M333.6,502.5 C335.8,508.42 332.4,514.98 334,520.9" fill="none" stroke="#333" stroke-width="0.9"/>
<path d="M333.6,523.5 L334.8,523.5 Q336,523.5 336,524.7 L336,554.7 Q336,555.9 334.8,555.9 L333.6,555.9" fill="none" stroke="#262626" stroke-width="1"/>
<path d="M333.6,522.5 C335.8,533.22 332.4,546.18 334,556.9" fill="none" stroke="#333" stroke-width="0.9"/>
<rect x="337.5" y="466.5" width="5" height="33" rx="1.4" fill="none" stroke="#262626" stroke-width="1"/>
<rect x="345.5" y="466.5" width="5" height="33" rx="1.4" fill="none" stroke="#262626" stroke-width="1"/>
<rect x="352.5" y="466.5" width="5" height="33" rx="1.4" fill="none" stroke="#262626" stroke-width="1"/>
<rect x="360.5" y="466.5" width="5" height="33" rx="1.4" fill="none" stroke="#262626" stroke-width="1"/>
<rect x="367.5" y="466.5" width="5" height="33" rx="1.4" fill="none" stroke="#262626" stroke-width="1"/>
<rect x="375.5" y="466.5" width="5" height="33" rx="1.4" fill="none" stroke="#262626" stroke-width="1"/>
<rect x="382.5" y="466.5" width="5" height="33" rx="1.4" fill="none" stroke="#262626" stroke-width="1"/>
<rect x="390.5" y="466.5" width="5" height="33" rx="1.4" fill="none" stroke="#262626" stroke-width="1"/>
<rect x="397.5" y="466.5" width="5" height="33" rx="1.4" fill="none" stroke="#262626" stroke-width="1"/>
<rect x="405.5" y="466.5" width="5" height="33" rx="1.4" fill="none" stroke="#262626" stroke-width="1"/>
<rect x="412.5" y="466.5" width="5" height="33" rx="1.4" fill="none" stroke="#262626" stroke-width="1"/>
<rect x="420.5" y="466.5" width="5" height="33" rx="1.4" fill="none" stroke="#262626" stroke-width="1"/>
<rect x="427.5" y="466.5" width="5" height="33" rx="1.4" fill="none" stroke="#262626" stroke-width="1"/>
<rect x="435.5" y="466.5" width="5" height="33" rx="1.4" fill="none" stroke="#262626" stroke-width="1"/>
<rect x="442.5" y="466.5" width="5" height="33" rx="1.4" fill="none" stroke="#262626" stroke-width="1"/>
<rect x="450.5" y="466.5" width="5" height="33" rx="1.4" fill="none" stroke="#262626" stroke-width="1"/>
<rect x="458.5" y="466.5" width="5" height="33" rx="1.4" fill="none" stroke="#262626" stroke-width="1"/>
<rect x="337.5" y="503.5" width="5" height="16" rx="1.4" fill="none" stroke="#262626" stroke-width="1"/>
<rect x="345.5" y="503.5" width="5" height="16" rx="1.4" fill="none" stroke="#262626" stroke-width="1"/>
<rect x="352.5" y="503.5" width="5" height="16" rx="1.4" fill="none" stroke="#262626" stroke-width="1"/>
<rect x="360.5" y="503.5" width="5" height="16" rx="1.4" fill="none" stroke="#262626" stroke-width="1"/>
<rect x="367.5" y="503.5" width="5" height="16" rx="1.4" fill="none" stroke="#262626" stroke-width="1"/>
<rect x="375.5" y="503.5" width="5" height="16" rx="1.4" fill="none" stroke="#262626" stroke-width="1"/>
<rect x="382.5" y="503.5" width="5" height="16" rx="1.4" fill="none" stroke="#262626" stroke-width="1"/>
<rect x="390.5" y="503.5" width="5" height="16" rx="1.4" fill="none" stroke="#262626" stroke-width="1"/>
<rect x="397.5" y="503.5" width="5" height="16" rx="1.4" fill="none" stroke="#262626" stroke-width="1"/>
<rect x="405.5" y="503.5" width="5" height="16" rx="1.4" fill="none" stroke="#262626" stroke-width="1"/>
<rect x="412.5" y="503.5" width="5" height="16" rx="1.4" fill="none" stroke="#262626" stroke-width="1"/>
<rect x="420.5" y="503.5" width="5" height="16" rx="1.4" fill="none" stroke="#262626" stroke-width="1"/>
<rect x="427.5" y="503.5" width="5" height="16" rx="1.4" fill="none" stroke="#262626" stroke-width="1"/>
<rect x="435.5" y="503.5" width="5" height="16" rx="1.4" fill="none" stroke="#262626" stroke-width="1"/>
<rect x="442.5" y="503.5" width="5" height="16" rx="1.4" fill="none" stroke="#262626" stroke-width="1"/>
<rect x="450.5" y="503.5" width="5" height="16" rx="1.4" fill="none" stroke="#262626" stroke-width="1"/>
<rect x="458.5" y="503.5" width="5" height="16" rx="1.4" fill="none" stroke="#262626" stroke-width="1"/>
<rect x="337.5" y="523.5" width="5" height="32" rx="1.4" fill="none" stroke="#262626" stroke-width="1"/>
<rect x="345.5" y="523.5" width="5" height="32" rx="1.4" fill="none" stroke="#262626" stroke-width="1"/>
<rect x="352.5" y="523.5" width="5" height="32" rx="1.4" fill="none" stroke="#262626" stroke-width="1"/>
<rect x="360.5" y="523.5" width="5" height="32" rx="1.4" fill="none" stroke="#262626" stroke-width="1"/>
<rect x="367.5" y="523.5" width="5" height="32" rx="1.4" fill="none" stroke="#262626" stroke-width="1"/>
<rect x="375.5" y="523.5" width="5" height="32" rx="1.4" fill="none" stroke="#262626" stroke-width="1"/>
<rect x="382.5" y="523.5" width="5" height="32" rx="1.4" fill="none" stroke="#262626" stroke-width="1"/>
<rect x="390.5" y="523.5" width="5" height="32" rx="1.4" fill="none" stroke="#262626" stroke-width="1"/>
<rect x="397.5" y="523.5" width="5" height="32" rx="1.4" fill="none" stroke="#262626" stroke-width="1"/>
<rect x="405.5" y="523.5" width="5" height="32" rx="1.4" fill="none" stroke="#262626" stroke-width="1"/>
<rect x="412.5" y="523.5" width="5" height="32" rx="1.4" fill="none" stroke="#262626" stroke-width="1"/>
<rect x="420.5" y="523.5" width="5" height="32" rx="1.4" fill="none" stroke="#262626" stroke-width="1"/>
<rect x="427.5" y="523.5" width="5" height="32" rx="1.4" fill="none" stroke="#262626" stroke-width="1"/>
<rect x="435.5" y="523.5" width="5" height="32" rx="1.4" fill="none" stroke="#262626" stroke-width="1"/>
<rect x="442.5" y="523.5" width="5" height="32" rx="1.4" fill="none" stroke="#262626" stroke-width="1"/>
<rect x="450.5" y="523.5" width="5" height="32" rx="1.4" fill="none" stroke="#262626" stroke-width="1"/>
<rect x="458.5" y="523.5" width="5" height="32" rx="1.4" fill="none" stroke="#262626" stroke-width="1"/>
<ellipse cx="471.4" cy="511.4" rx="2.5" ry="1.95" fill="none" stroke="#262626" stroke-width="1"/>
<path d="M119.4,597.9 Q119.9,593.6 124.4,593.6 L332.4,593.6" fill="none" stroke="#262626" stroke-width="1.1"/>
<path d="M119.4,691.1 Q119.9,697.3 124.4,697.3 L332.4,697.3" fill="none" stroke="#262626" stroke-width="1.1"/>
<line x1="116.9" y1="598" x2="332.4" y2="598" stroke="#262626" stroke-width="2.2"/>
<line x1="116.9" y1="691" x2="332.4" y2="691" stroke="#262626" stroke-width="2.2"/>
<line x1="124.9" y1="604.5" x2="332.4" y2="604.5" stroke="#262626" stroke-width="1"/>
<line x1="124.9" y1="686.5" x2="332.4" y2="686.5" stroke="#262626" stroke-width="1"/>
<line x1="124.9" y1="648.5" x2="332.4" y2="648.5" stroke="#262626" stroke-width="1"/>
<line x1="116.9" y1="654" x2="332.4" y2="654" stroke="#262626" stroke-width="2.2"/>
<line x1="124.9" y1="659.5" x2="332.4" y2="659.5" stroke="#262626" stroke-width="1"/>
<line x1="114.5" y1="596.4" x2="114.5" y2="692.6" stroke="#262626" stroke-width="1.3"/>
<rect x="114.7" y="595.9" width="4.5" height="3.8" rx="1.2" fill="#262626" stroke="#262626" stroke-width="0"/>
<rect x="114.7" y="689.3" width="4.5" height="3.8" rx="1.2" fill="#262626" stroke="#262626" stroke-width="0"/>
<path d="M116.4,598.4 L124.8,609.5 L124.8,645.8 L116.9,652.9" fill="none" stroke="#262626" stroke-width="1"/>
<path d="M116.9,655.9 L124.8,662.7 L124.8,680.8 L116.4,690.6" fill="none" stroke="#262626" stroke-width="1"/>
<rect x="124.5" y="617.5" width="3" height="18" rx="0" fill="none" stroke="#555" stroke-width="0.9"/>
<line x1="127.5" y1="604" x2="127.5" y2="648.8" stroke="#262626" stroke-width="1"/>
<line x1="127.5" y1="659.7" x2="127.5" y2="686.3" stroke="#262626" stroke-width="1"/>
<line x1="134.5" y1="602" x2="134.5" y2="688.8" stroke="#262626" stroke-width="1" stroke-dasharray="6 2 1.2 2"/>
<line x1="141.5" y1="604" x2="141.5" y2="648.8" stroke="#262626" stroke-width="1"/>
<line x1="141.5" y1="659.7" x2="141.5" y2="686.3" stroke="#262626" stroke-width="1"/>
<line x1="109.9" y1="645.5" x2="128.9" y2="645.5" stroke="#262626" stroke-width="0.9" stroke-dasharray="4 1.5 1 1.5"/>
<ellipse cx="121.4" cy="645" rx="1.3" ry="1.3" fill="#262626" stroke="#262626" stroke-width="1"/>
<path d="M141.6,607.67 L141.83,605.59 Q142,604 143.6,604 L148.7,604 Q150.3,604 150.47,605.59 L152.33,622.61 Q152.5,624.2 154.1,624.2 L158.4,624.2 Q160,624.2 160.17,622.61 L162.03,605.59 Q162.2,604 163.8,604 L168.9,604 Q170.5,604 170.67,605.59 L172.53,622.61 Q172.7,624.2 174.3,624.2 L178.6,624.2 Q180.2,624.2 180.37,622.61 L182.23,605.59 Q182.4,604 184,604 L189.1,604 Q190.7,604 190.87,605.59 L192.73,622.61 Q192.9,624.2 194.5,624.2 L198.8,624.2 Q200.4,624.2 200.57,622.61 L202.43,605.59 Q202.6,604 204.2,604 L209.3,604 Q210.9,604 211.07,605.59 L212.93,622.61 Q213.1,624.2 214.7,624.2 L219,624.2 Q220.6,624.2 220.77,622.61 L222.63,605.59 Q222.8,604 224.4,604 L229.5,604 Q231.1,604 231.27,605.59 L233.13,622.61 Q233.3,624.2 234.9,624.2 L239.2,624.2 Q240.8,624.2 240.97,622.61 L242.83,605.59 Q243,604 244.6,604 L249.7,604 Q251.3,604 251.47,605.59 L253.33,622.61 Q253.5,624.2 255.1,624.2 L259.4,624.2 Q261,624.2 261.17,622.61 L263.03,605.59 Q263.2,604 264.8,604 L269.9,604 Q271.5,604 271.67,605.59 L273.53,622.61 Q273.7,624.2 275.3,624.2 L279.6,624.2 Q281.2,624.2 281.37,622.61 L283.23,605.59 Q283.4,604 285,604 L290.1,604 Q291.7,604 291.87,605.59 L293.73,622.61 Q293.9,624.2 295.5,624.2 L299.8,624.2 Q301.4,624.2 301.57,622.61 L303.43,605.59 Q303.6,604 305.2,604 L310.3,604 Q311.9,604 312.07,605.59 L313.93,622.61 Q314.1,624.2 315.7,624.2 L320,624.2 Q321.6,624.2 321.77,622.61 L323.63,605.59 Q323.8,604 325.4,604 L330.71,604 Q332.1,604 332.25,605.38 L332.4,606.75" fill="none" stroke="#262626" stroke-width="1"/>
<path d="M141.6,645.27 L141.82,647.21 Q142,648.8 143.6,648.8 L148.7,648.8 Q150.3,648.8 150.48,647.21 L152.32,630.99 Q152.5,629.4 154.1,629.4 L158.4,629.4 Q160,629.4 160.18,630.99 L162.02,647.21 Q162.2,648.8 163.8,648.8 L168.9,648.8 Q170.5,648.8 170.68,647.21 L172.52,630.99 Q172.7,629.4 174.3,629.4 L178.6,629.4 Q180.2,629.4 180.38,630.99 L182.22,647.21 Q182.4,648.8 184,648.8 L189.1,648.8 Q190.7,648.8 190.88,647.21 L192.72,630.99 Q192.9,629.4 194.5,629.4 L198.8,629.4 Q200.4,629.4 200.58,630.99 L202.42,647.21 Q202.6,648.8 204.2,648.8 L209.3,648.8 Q210.9,648.8 211.08,647.21 L212.92,630.99 Q213.1,629.4 214.7,629.4 L219,629.4 Q220.6,629.4 220.78,630.99 L222.62,647.21 Q222.8,648.8 224.4,648.8 L229.5,648.8 Q231.1,648.8 231.28,647.21 L233.12,630.99 Q233.3,629.4 234.9,629.4 L239.2,629.4 Q240.8,629.4 240.98,630.99 L242.82,647.21 Q243,648.8 244.6,648.8 L249.7,648.8 Q251.3,648.8 251.48,647.21 L253.32,630.99 Q253.5,629.4 255.1,629.4 L259.4,629.4 Q261,629.4 261.18,630.99 L263.02,647.21 Q263.2,648.8 264.8,648.8 L269.9,648.8 Q271.5,648.8 271.68,647.21 L273.52,630.99 Q273.7,629.4 275.3,629.4 L279.6,629.4 Q281.2,629.4 281.38,630.99 L283.22,647.21 Q283.4,648.8 285,648.8 L290.1,648.8 Q291.7,648.8 291.88,647.21 L293.72,630.99 Q293.9,629.4 295.5,629.4 L299.8,629.4 Q301.4,629.4 301.58,630.99 L303.42,647.21 Q303.6,648.8 305.2,648.8 L310.3,648.8 Q311.9,648.8 312.08,647.21 L313.92,630.99 Q314.1,629.4 315.7,629.4 L320,629.4 Q321.6,629.4 321.78,630.99 L323.62,647.21 Q323.8,648.8 325.4,648.8 L330.77,648.8 Q332.1,648.8 332.25,647.48 L332.4,646.15" fill="none" stroke="#262626" stroke-width="1"/>
<path d="M141.6,682.79 L141.82,684.71 Q142,686.3 143.6,686.3 L148.7,686.3 Q150.3,686.3 150.48,684.71 L152.32,668.59 Q152.5,667 154.1,667 L158.4,667 Q160,667 160.18,668.59 L162.02,684.71 Q162.2,686.3 163.8,686.3 L168.9,686.3 Q170.5,686.3 170.68,684.71 L172.52,668.59 Q172.7,667 174.3,667 L178.6,667 Q180.2,667 180.38,668.59 L182.22,684.71 Q182.4,686.3 184,686.3 L189.1,686.3 Q190.7,686.3 190.88,684.71 L192.72,668.59 Q192.9,667 194.5,667 L198.8,667 Q200.4,667 200.58,668.59 L202.42,684.71 Q202.6,686.3 204.2,686.3 L209.3,686.3 Q210.9,686.3 211.08,684.71 L212.92,668.59 Q213.1,667 214.7,667 L219,667 Q220.6,667 220.78,668.59 L222.62,684.71 Q222.8,686.3 224.4,686.3 L229.5,686.3 Q231.1,686.3 231.28,684.71 L233.12,668.59 Q233.3,667 234.9,667 L239.2,667 Q240.8,667 240.98,668.59 L242.82,684.71 Q243,686.3 244.6,686.3 L249.7,686.3 Q251.3,686.3 251.48,684.71 L253.32,668.59 Q253.5,667 255.1,667 L259.4,667 Q261,667 261.18,668.59 L263.02,684.71 Q263.2,686.3 264.8,686.3 L269.9,686.3 Q271.5,686.3 271.68,684.71 L273.52,668.59 Q273.7,667 275.3,667 L279.6,667 Q281.2,667 281.38,668.59 L283.22,684.71 Q283.4,686.3 285,686.3 L290.1,686.3 Q291.7,686.3 291.88,684.71 L293.72,668.59 Q293.9,667 295.5,667 L299.8,667 Q301.4,667 301.58,668.59 L303.42,684.71 Q303.6,686.3 305.2,686.3 L310.3,686.3 Q311.9,686.3 312.08,684.71 L313.92,668.59 Q314.1,667 315.7,667 L320,667 Q321.6,667 321.78,668.59 L323.62,684.71 Q323.8,686.3 325.4,686.3 L330.78,686.3 Q332.1,686.3 332.25,684.98 L332.4,683.67" fill="none" stroke="#262626" stroke-width="1"/>
<rect x="198.5" y="598.9" width="14.9" height="91.2" fill="#fff" stroke="none"/>
<line x1="198.5" y1="598.9" x2="198.5" y2="690.1" stroke="#262626" stroke-width="1.1"/>
<line x1="213.5" y1="598.9" x2="213.5" y2="690.1" stroke="#262626" stroke-width="1.1"/>
<rect x="203.5" y="621.5" width="8" height="3" rx="0.9" fill="none" stroke="#262626" stroke-width="1"/>
<rect x="200.5" y="629.5" width="8" height="3" rx="0.9" fill="none" stroke="#262626" stroke-width="1"/>
<line x1="198.5" y1="654" x2="213.4" y2="654" stroke="#262626" stroke-width="2.2"/>
<rect x="289.2" y="598.9" width="14.4" height="91.2" fill="#fff" stroke="none"/>
<line x1="289.5" y1="598.9" x2="289.5" y2="690.1" stroke="#262626" stroke-width="1.1"/>
<line x1="303.5" y1="598.9" x2="303.5" y2="690.1" stroke="#262626" stroke-width="1.1"/>
<rect x="294.5" y="621.5" width="7" height="3" rx="0.9" fill="none" stroke="#262626" stroke-width="1"/>
<rect x="291.5" y="630.5" width="7" height="2" rx="0.9" fill="none" stroke="#262626" stroke-width="1"/>
<line x1="289.2" y1="654" x2="303.6" y2="654" stroke="#262626" stroke-width="2.2"/>
<path d="M332.5,593.5 L477,593.5 Q479.5,593.5 479.5,596 L479.5,694 Q479.5,696.5 477,696.5 L332.5,696.5 Z" fill="#fff" stroke="#262626" stroke-width="1"/>
<line x1="332.4" y1="593.8" x2="469.6" y2="593.8" stroke="#262626" stroke-width="1.4"/>
<line x1="332.4" y1="696.2" x2="469.6" y2="696.2" stroke="#262626" stroke-width="1.4"/>
<path d="M333.6,600.5 L334.8,600.5 Q336,600.5 336,601.7 L336,632.3 Q336,633.5 334.8,633.5 L333.6,633.5" fill="none" stroke="#262626" stroke-width="1"/>
<path d="M333.6,599.5 C335.8,610.4 332.4,623.6 334,634.5" fill="none" stroke="#333" stroke-width="0.9"/>
<path d="M333.6,637.1 L334.8,637.1 Q336,637.1 336,638.3 L336,651.7 Q336,652.9 334.8,652.9 L333.6,652.9" fill="none" stroke="#262626" stroke-width="1"/>
<path d="M333.6,636.1 C335.8,641.84 332.4,648.16 334,653.9" fill="none" stroke="#333" stroke-width="0.9"/>
<path d="M333.6,656.9 L334.8,656.9 Q336,656.9 336,658.1 L336,688.3 Q336,689.5 334.8,689.5 L333.6,689.5" fill="none" stroke="#262626" stroke-width="1"/>
<path d="M333.6,655.9 C335.8,666.68 332.4,679.72 334,690.5" fill="none" stroke="#333" stroke-width="0.9"/>
<rect x="337.5" y="600.5" width="5" height="33" rx="1.4" fill="none" stroke="#262626" stroke-width="1"/>
<rect x="345.5" y="600.5" width="5" height="33" rx="1.4" fill="none" stroke="#262626" stroke-width="1"/>
<rect x="352.5" y="600.5" width="5" height="33" rx="1.4" fill="none" stroke="#262626" stroke-width="1"/>
<rect x="360.5" y="600.5" width="5" height="33" rx="1.4" fill="none" stroke="#262626" stroke-width="1"/>
<rect x="367.5" y="600.5" width="5" height="33" rx="1.4" fill="none" stroke="#262626" stroke-width="1"/>
<rect x="375.5" y="600.5" width="5" height="33" rx="1.4" fill="none" stroke="#262626" stroke-width="1"/>
<rect x="382.5" y="600.5" width="5" height="33" rx="1.4" fill="none" stroke="#262626" stroke-width="1"/>
<rect x="390.5" y="600.5" width="5" height="33" rx="1.4" fill="none" stroke="#262626" stroke-width="1"/>
<rect x="397.5" y="600.5" width="5" height="33" rx="1.4" fill="none" stroke="#262626" stroke-width="1"/>
<rect x="405.5" y="600.5" width="5" height="33" rx="1.4" fill="none" stroke="#262626" stroke-width="1"/>
<rect x="412.5" y="600.5" width="5" height="33" rx="1.4" fill="none" stroke="#262626" stroke-width="1"/>
<rect x="420.5" y="600.5" width="5" height="33" rx="1.4" fill="none" stroke="#262626" stroke-width="1"/>
<rect x="427.5" y="600.5" width="5" height="33" rx="1.4" fill="none" stroke="#262626" stroke-width="1"/>
<rect x="435.5" y="600.5" width="5" height="33" rx="1.4" fill="none" stroke="#262626" stroke-width="1"/>
<rect x="442.5" y="600.5" width="5" height="33" rx="1.4" fill="none" stroke="#262626" stroke-width="1"/>
<rect x="450.5" y="600.5" width="5" height="33" rx="1.4" fill="none" stroke="#262626" stroke-width="1"/>
<rect x="458.5" y="600.5" width="5" height="33" rx="1.4" fill="none" stroke="#262626" stroke-width="1"/>
<rect x="337.5" y="637.5" width="5" height="15" rx="1.4" fill="none" stroke="#262626" stroke-width="1"/>
<rect x="345.5" y="637.5" width="5" height="15" rx="1.4" fill="none" stroke="#262626" stroke-width="1"/>
<rect x="352.5" y="637.5" width="5" height="15" rx="1.4" fill="none" stroke="#262626" stroke-width="1"/>
<rect x="360.5" y="637.5" width="5" height="15" rx="1.4" fill="none" stroke="#262626" stroke-width="1"/>
<rect x="367.5" y="637.5" width="5" height="15" rx="1.4" fill="none" stroke="#262626" stroke-width="1"/>
<rect x="375.5" y="637.5" width="5" height="15" rx="1.4" fill="none" stroke="#262626" stroke-width="1"/>
<rect x="382.5" y="637.5" width="5" height="15" rx="1.4" fill="none" stroke="#262626" stroke-width="1"/>
<rect x="390.5" y="637.5" width="5" height="15" rx="1.4" fill="none" stroke="#262626" stroke-width="1"/>
<rect x="397.5" y="637.5" width="5" height="15" rx="1.4" fill="none" stroke="#262626" stroke-width="1"/>
<rect x="405.5" y="637.5" width="5" height="15" rx="1.4" fill="none" stroke="#262626" stroke-width="1"/>
<rect x="412.5" y="637.5" width="5" height="15" rx="1.4" fill="none" stroke="#262626" stroke-width="1"/>
<rect x="420.5" y="637.5" width="5" height="15" rx="1.4" fill="none" stroke="#262626" stroke-width="1"/>
<rect x="427.5" y="637.5" width="5" height="15" rx="1.4" fill="none" stroke="#262626" stroke-width="1"/>
<rect x="435.5" y="637.5" width="5" height="15" rx="1.4" fill="none" stroke="#262626" stroke-width="1"/>
<rect x="442.5" y="637.5" width="5" height="15" rx="1.4" fill="none" stroke="#262626" stroke-width="1"/>
<rect x="450.5" y="637.5" width="5" height="15" rx="1.4" fill="none" stroke="#262626" stroke-width="1"/>
<rect x="458.5" y="637.5" width="5" height="15" rx="1.4" fill="none" stroke="#262626" stroke-width="1"/>
<rect x="337.5" y="656.5" width="5" height="33" rx="1.4" fill="none" stroke="#262626" stroke-width="1"/>
<rect x="345.5" y="656.5" width="5" height="33" rx="1.4" fill="none" stroke="#262626" stroke-width="1"/>
<rect x="352.5" y="656.5" width="5" height="33" rx="1.4" fill="none" stroke="#262626" stroke-width="1"/>
<rect x="360.5" y="656.5" width="5" height="33" rx="1.4" fill="none" stroke="#262626" stroke-width="1"/>
<rect x="367.5" y="656.5" width="5" height="33" rx="1.4" fill="none" stroke="#262626" stroke-width="1"/>
<rect x="375.5" y="656.5" width="5" height="33" rx="1.4" fill="none" stroke="#262626" stroke-width="1"/>
<rect x="382.5" y="656.5" width="5" height="33" rx="1.4" fill="none" stroke="#262626" stroke-width="1"/>
<rect x="390.5" y="656.5" width="5" height="33" rx="1.4" fill="none" stroke="#262626" stroke-width="1"/>
<rect x="397.5" y="656.5" width="5" height="33" rx="1.4" fill="none" stroke="#262626" stroke-width="1"/>
<rect x="405.5" y="656.5" width="5" height="33" rx="1.4" fill="none" stroke="#262626" stroke-width="1"/>
<rect x="412.5" y="656.5" width="5" height="33" rx="1.4" fill="none" stroke="#262626" stroke-width="1"/>
<rect x="420.5" y="656.5" width="5" height="33" rx="1.4" fill="none" stroke="#262626" stroke-width="1"/>
<rect x="427.5" y="656.5" width="5" height="33" rx="1.4" fill="none" stroke="#262626" stroke-width="1"/>
<rect x="435.5" y="656.5" width="5" height="33" rx="1.4" fill="none" stroke="#262626" stroke-width="1"/>
<rect x="442.5" y="656.5" width="5" height="33" rx="1.4" fill="none" stroke="#262626" stroke-width="1"/>
<rect x="450.5" y="656.5" width="5" height="33" rx="1.4" fill="none" stroke="#262626" stroke-width="1"/>
<rect x="458.5" y="656.5" width="5" height="33" rx="1.4" fill="none" stroke="#262626" stroke-width="1"/>
<ellipse cx="471.5" cy="645" rx="2.5" ry="1.95" fill="none" stroke="#262626" stroke-width="1"/>
<line x1="478.6" y1="62.5" x2="497.6" y2="62.5" stroke="#333" stroke-width="1"/>
<line x1="478.6" y1="76.5" x2="497.6" y2="76.5" stroke="#333" stroke-width="1"/>
<rect x="482" y="60" width="6" height="20" rx="0.6" fill="#8a8a8a" stroke="#262626" stroke-width="1.8"/>
<rect x="483.1" y="62.5" width="3.6" height="1.7" fill="#f0f0f0"/>
<rect x="483.1" y="66.5" width="3.6" height="1.7" fill="#f0f0f0"/>
<rect x="483.1" y="70.5" width="3.6" height="1.7" fill="#f0f0f0"/>
<rect x="483.1" y="74.5" width="3.6" height="1.7" fill="#f0f0f0"/>
<line x1="490.5" y1="56.3" x2="490.5" y2="82.7" stroke="#1e1e1e" stroke-width="1.4"/>
<line x1="493.5" y1="54.2" x2="493.5" y2="84.8" stroke="#1e1e1e" stroke-width="1.4"/>
<path d="M497.5,53.9 L507.5,53.9 L532.9,56.1 Q534.5,56.3 534.5,57.9 L534.5,81.1 Q534.5,82.7 532.9,82.9 L507.5,85.1 L497.5,85.1 Z" fill="#fff" stroke="#262626" stroke-width="1.1"/>
<line x1="507.5" y1="53.9" x2="507.5" y2="85.1" stroke="#262626" stroke-width="1"/>
<path d="M494.4,65.7 L500.9,67.9 L495.3,69.7" fill="none" stroke="#111" stroke-width="1.3" stroke-linejoin="miter"/>
<line x1="476.5" y1="69.5" x2="538.4" y2="69.5" stroke="#444" stroke-width="1" stroke-dasharray="3.2 1.6 1 1.6"/>
<line x1="477.5" y1="131.5" x2="496.5" y2="131.5" stroke="#333" stroke-width="1"/>
<line x1="477.5" y1="145.5" x2="496.5" y2="145.5" stroke="#333" stroke-width="1"/>
<rect x="481" y="129" width="6" height="20" rx="0.6" fill="#8a8a8a" stroke="#262626" stroke-width="1.8"/>
<rect x="482" y="131.5" width="3.6" height="1.7" fill="#f0f0f0"/>
<rect x="482" y="135.5" width="3.6" height="1.7" fill="#f0f0f0"/>
<rect x="482" y="139.5" width="3.6" height="1.7" fill="#f0f0f0"/>
<rect x="482" y="143.5" width="3.6" height="1.7" fill="#f0f0f0"/>
<line x1="489.5" y1="125.3" x2="489.5" y2="151.7" stroke="#1e1e1e" stroke-width="1.4"/>
<line x1="492.5" y1="123.2" x2="492.5" y2="153.8" stroke="#1e1e1e" stroke-width="1.4"/>
<path d="M496.5,122.9 L506.5,122.9 L531.9,125.1 Q533.5,125.3 533.5,126.9 L533.5,150.1 Q533.5,151.7 531.9,151.9 L506.5,154.1 L496.5,154.1 Z" fill="#fff" stroke="#262626" stroke-width="1.1"/>
<line x1="506.5" y1="122.9" x2="506.5" y2="154.1" stroke="#262626" stroke-width="1"/>
<path d="M493.3,134.7 L499.8,136.9 L494.2,138.7" fill="none" stroke="#111" stroke-width="1.3" stroke-linejoin="miter"/>
<line x1="474.5" y1="138.5" x2="537.3" y2="138.5" stroke="#444" stroke-width="1" stroke-dasharray="3.2 1.6 1 1.6"/>
<line x1="477.5" y1="215.5" x2="496.5" y2="215.5" stroke="#333" stroke-width="1"/>
<line x1="477.5" y1="229.5" x2="496.5" y2="229.5" stroke="#333" stroke-width="1"/>
<rect x="481" y="213" width="6" height="20" rx="0.6" fill="#8a8a8a" stroke="#262626" stroke-width="1.8"/>
<rect x="482" y="215.5" width="3.6" height="1.7" fill="#f0f0f0"/>
<rect x="482" y="219.5" width="3.6" height="1.7" fill="#f0f0f0"/>
<rect x="482" y="223.5" width="3.6" height="1.7" fill="#f0f0f0"/>
<rect x="482" y="227.5" width="3.6" height="1.7" fill="#f0f0f0"/>
<line x1="489.5" y1="209.3" x2="489.5" y2="235.7" stroke="#1e1e1e" stroke-width="1.4"/>
<line x1="492.5" y1="207.2" x2="492.5" y2="237.8" stroke="#1e1e1e" stroke-width="1.4"/>
<path d="M496.5,206.9 L506.5,206.9 L531.9,209.1 Q533.5,209.3 533.5,210.9 L533.5,234.1 Q533.5,235.7 531.9,235.9 L506.5,238.1 L496.5,238.1 Z" fill="#fff" stroke="#262626" stroke-width="1.1"/>
<line x1="506.5" y1="206.9" x2="506.5" y2="238.1" stroke="#262626" stroke-width="1"/>
<path d="M493.3,218.7 L499.8,220.9 L494.2,222.7" fill="none" stroke="#111" stroke-width="1.3" stroke-linejoin="miter"/>
<line x1="473.8" y1="222.5" x2="537.3" y2="222.5" stroke="#444" stroke-width="1" stroke-dasharray="3.2 1.6 1 1.6"/>
<line x1="478" y1="302.5" x2="497" y2="302.5" stroke="#333" stroke-width="1"/>
<line x1="478" y1="316.5" x2="497" y2="316.5" stroke="#333" stroke-width="1"/>
<rect x="481" y="300" width="6" height="20" rx="0.6" fill="#8a8a8a" stroke="#262626" stroke-width="1.8"/>
<rect x="482.5" y="302.5" width="3.6" height="1.7" fill="#f0f0f0"/>
<rect x="482.5" y="306.5" width="3.6" height="1.7" fill="#f0f0f0"/>
<rect x="482.5" y="310.5" width="3.6" height="1.7" fill="#f0f0f0"/>
<rect x="482.5" y="314.5" width="3.6" height="1.7" fill="#f0f0f0"/>
<line x1="490.5" y1="296.3" x2="490.5" y2="322.7" stroke="#1e1e1e" stroke-width="1.4"/>
<line x1="493.5" y1="294.2" x2="493.5" y2="324.8" stroke="#1e1e1e" stroke-width="1.4"/>
<path d="M496.5,293.9 L507.5,293.9 L531.9,296.1 Q533.5,296.3 533.5,297.9 L533.5,321.1 Q533.5,322.7 531.9,322.9 L507.5,325.1 L496.5,325.1 Z" fill="#fff" stroke="#262626" stroke-width="1.1"/>
<line x1="507.5" y1="293.9" x2="507.5" y2="325.1" stroke="#262626" stroke-width="1"/>
<path d="M493.8,305.7 L500.3,307.9 L494.7,309.7" fill="none" stroke="#111" stroke-width="1.3" stroke-linejoin="miter"/>
<line x1="473.9" y1="309.5" x2="537.8" y2="309.5" stroke="#444" stroke-width="1" stroke-dasharray="3.2 1.6 1 1.6"/>
<line x1="478" y1="389.5" x2="497" y2="389.5" stroke="#333" stroke-width="1"/>
<line x1="478" y1="403.5" x2="497" y2="403.5" stroke="#333" stroke-width="1"/>
<rect x="481" y="387" width="6" height="20" rx="0.6" fill="#8a8a8a" stroke="#262626" stroke-width="1.8"/>
<rect x="482.5" y="389.5" width="3.6" height="1.7" fill="#f0f0f0"/>
<rect x="482.5" y="393.5" width="3.6" height="1.7" fill="#f0f0f0"/>
<rect x="482.5" y="397.5" width="3.6" height="1.7" fill="#f0f0f0"/>
<rect x="482.5" y="401.5" width="3.6" height="1.7" fill="#f0f0f0"/>
<line x1="490.5" y1="383.3" x2="490.5" y2="409.7" stroke="#1e1e1e" stroke-width="1.4"/>
<line x1="493.5" y1="381.2" x2="493.5" y2="411.8" stroke="#1e1e1e" stroke-width="1.4"/>
<path d="M496.5,380.9 L507.5,380.9 L531.9,383.1 Q533.5,383.3 533.5,384.9 L533.5,408.1 Q533.5,409.7 531.9,409.9 L507.5,412.1 L496.5,412.1 Z" fill="#fff" stroke="#262626" stroke-width="1.1"/>
<line x1="507.5" y1="380.9" x2="507.5" y2="412.1" stroke="#262626" stroke-width="1"/>
<path d="M493.8,392.7 L500.3,394.9 L494.7,396.7" fill="none" stroke="#111" stroke-width="1.3" stroke-linejoin="miter"/>
<line x1="473.5" y1="396.5" x2="537.8" y2="396.5" stroke="#444" stroke-width="1" stroke-dasharray="3.2 1.6 1 1.6"/>
<line x1="478.5" y1="486.5" x2="497.5" y2="486.5" stroke="#333" stroke-width="1"/>
<line x1="478.5" y1="500.5" x2="497.5" y2="500.5" stroke="#333" stroke-width="1"/>
<rect x="482" y="484" width="6" height="20" rx="0.6" fill="#8a8a8a" stroke="#262626" stroke-width="1.8"/>
<rect x="483" y="486.5" width="3.6" height="1.7" fill="#f0f0f0"/>
<rect x="483" y="490.5" width="3.6" height="1.7" fill="#f0f0f0"/>
<rect x="483" y="494.5" width="3.6" height="1.7" fill="#f0f0f0"/>
<rect x="483" y="498.5" width="3.6" height="1.7" fill="#f0f0f0"/>
<line x1="490.5" y1="480.3" x2="490.5" y2="506.7" stroke="#1e1e1e" stroke-width="1.4"/>
<line x1="493.5" y1="478.2" x2="493.5" y2="508.8" stroke="#1e1e1e" stroke-width="1.4"/>
<path d="M497.5,477.9 L507.5,477.9 L532.9,480.1 Q534.5,480.3 534.5,481.9 L534.5,505.1 Q534.5,506.7 532.9,506.9 L507.5,509.1 L497.5,509.1 Z" fill="#fff" stroke="#262626" stroke-width="1.1"/>
<line x1="507.5" y1="477.9" x2="507.5" y2="509.1" stroke="#262626" stroke-width="1"/>
<path d="M494.3,489.7 L500.8,491.9 L495.2,493.7" fill="none" stroke="#111" stroke-width="1.3" stroke-linejoin="miter"/>
<line x1="469" y1="493.5" x2="538.3" y2="493.5" stroke="#444" stroke-width="1" stroke-dasharray="3.2 1.6 1 1.6"/>
<line x1="478.5" y1="620.5" x2="497.5" y2="620.5" stroke="#333" stroke-width="1"/>
<line x1="478.5" y1="634.5" x2="497.5" y2="634.5" stroke="#333" stroke-width="1"/>
<rect x="482" y="618" width="6" height="20" rx="0.6" fill="#8a8a8a" stroke="#262626" stroke-width="1.8"/>
<rect x="483" y="620.5" width="3.6" height="1.7" fill="#f0f0f0"/>
<rect x="483" y="624.5" width="3.6" height="1.7" fill="#f0f0f0"/>
<rect x="483" y="628.5" width="3.6" height="1.7" fill="#f0f0f0"/>
<rect x="483" y="632.5" width="3.6" height="1.7" fill="#f0f0f0"/>
<line x1="490.5" y1="614.3" x2="490.5" y2="640.7" stroke="#1e1e1e" stroke-width="1.4"/>
<line x1="493.5" y1="612.2" x2="493.5" y2="642.8" stroke="#1e1e1e" stroke-width="1.4"/>
<path d="M497.5,611.9 L507.5,611.9 L532.9,614.1 Q534.5,614.3 534.5,615.9 L534.5,639.1 Q534.5,640.7 532.9,640.9 L507.5,643.1 L497.5,643.1 Z" fill="#fff" stroke="#262626" stroke-width="1.1"/>
<line x1="507.5" y1="611.9" x2="507.5" y2="643.1" stroke="#262626" stroke-width="1"/>
<path d="M494.3,623.7 L500.8,625.9 L495.2,627.7" fill="none" stroke="#111" stroke-width="1.3" stroke-linejoin="miter"/>
<line x1="469.4" y1="627.5" x2="538.3" y2="627.5" stroke="#444" stroke-width="1" stroke-dasharray="3.2 1.6 1 1.6"/>
<g transform="translate(0,-1)">
<line x1="797.4" y1="79.5" x2="1008.8" y2="79.5" stroke="#262626" stroke-width="1.1"/>
<line x1="786.9" y1="84" x2="1008.8" y2="84" stroke="#262626" stroke-width="2.2"/>
<path d="M792.4,84.7 Q792.9,89.5 795.9,89.5 L1008.8,89.5" fill="none" stroke="#262626" stroke-width="1.1"/>
<rect x="785.6" y="81.7" width="4.5" height="4" rx="1" fill="#262626" stroke="#262626" stroke-width="0"/>
<line x1="785.5" y1="51.5" x2="785.5" y2="84.2" stroke="#262626" stroke-width="1.3"/>
<path d="M785.9,51.5 L823.5,51.5 Q825.1,51.5 825.1,53.1 L825.1,60.3" fill="none" stroke="#262626" stroke-width="1.4"/>
<line x1="792" y1="51" x2="817.5" y2="51" stroke="#262626" stroke-width="1.8"/>
<rect x="795.5" y="51.5" width="18" height="5" rx="0" fill="none" stroke="#262626" stroke-width="1"/>
<line x1="797.5" y1="57" x2="812.2" y2="57" stroke="#262626" stroke-width="1.7"/>
<line x1="797.5" y1="57" x2="797.5" y2="79.8" stroke="#262626" stroke-width="1"/>
<line x1="812.5" y1="57" x2="812.5" y2="79.8" stroke="#262626" stroke-width="1.3"/>
<line x1="804.5" y1="55.5" x2="804.5" y2="82.3" stroke="#262626" stroke-width="1" stroke-dasharray="6 2 1.2 2"/>
<path d="M786.5,53.4 L797,61.4 L797,75.3 L787.2,83.3" fill="none" stroke="#262626" stroke-width="1"/>
<rect x="795.1" y="61.5" width="1.8" height="13.5" fill="#aaa"/>
<line x1="784" y1="68.5" x2="804" y2="68.5" stroke="#262626" stroke-width="0.9" stroke-dasharray="4 1.5 1 1.5"/>
<ellipse cx="791.8" cy="68.6" rx="1.5" ry="1.3" fill="#fff" stroke="#262626" stroke-width="1"/>
<rect x="879.5" y="54.4" width="18.25" height="28.8" fill="#fff" stroke="none"/>
<path d="M879.5,83.2 L879.5,55.9 Q879.5,54.4 881,54.4 L896.25,54.4 Q897.75,54.4 897.75,55.9 L897.75,83.2" fill="none" stroke="#262626" stroke-width="1.1"/>
<rect x="883.5" y="67.5" width="11" height="4" rx="1.6" fill="none" stroke="#262626" stroke-width="1"/>
<rect x="954.25" y="51.25" width="30.65" height="32.35" fill="#fff" stroke="none"/>
<path d="M954.25,83.6 L954.25,52.75 Q954.25,51.25 955.75,51.25 L983.4,51.25 Q984.9,51.25 984.9,52.75 L984.9,83.6" fill="none" stroke="#262626" stroke-width="1.1"/>
<rect x="960.5" y="51.5" width="18" height="9" rx="0" fill="none" stroke="#262626" stroke-width="1"/>
<line x1="960.5" y1="52" x2="978" y2="52" stroke="#262626" stroke-width="1.8"/>
<rect x="963.5" y="67.5" width="11" height="4" rx="1.6" fill="none" stroke="#262626" stroke-width="1"/>
<path d="M1008.5,50.5 L1150,50.5 Q1152.5,50.5 1152.5,53 L1152.5,86 Q1152.5,88.5 1150,88.5 L1008.5,88.5 Z" fill="#fff" stroke="#262626" stroke-width="1"/>
<line x1="1008.8" y1="50.8" x2="1142.7" y2="50.8" stroke="#262626" stroke-width="1.4"/>
<line x1="1008.8" y1="88.2" x2="1142.7" y2="88.2" stroke="#262626" stroke-width="1.4"/>
<path d="M1010,55.6 L1012.5,55.6 Q1014,55.6 1014,57.1 L1014,81.7 Q1014,83.2 1012.5,83.2 L1010,83.2" fill="none" stroke="#262626" stroke-width="1"/>
<path d="M1010,54.6 C1012.2,63.88 1008.8,74.92 1010.4,84.2" fill="none" stroke="#333" stroke-width="0.9"/>
<rect x="1015.6" y="55.6" width="5.8" height="27.6" rx="1.4" fill="none" stroke="#262626" stroke-width="1"/>
<rect x="1023.1" y="55.6" width="5.8" height="27.6" rx="1.4" fill="none" stroke="#262626" stroke-width="1"/>
<rect x="1030.6" y="55.6" width="5.8" height="27.6" rx="1.4" fill="none" stroke="#262626" stroke-width="1"/>
<rect x="1038.1" y="55.6" width="5.8" height="27.6" rx="1.4" fill="none" stroke="#262626" stroke-width="1"/>
<rect x="1045.6" y="55.6" width="5.8" height="27.6" rx="1.4" fill="none" stroke="#262626" stroke-width="1"/>
<rect x="1053.1" y="55.6" width="5.8" height="27.6" rx="1.4" fill="none" stroke="#262626" stroke-width="1"/>
<rect x="1060.6" y="55.6" width="5.8" height="27.6" rx="1.4" fill="none" stroke="#262626" stroke-width="1"/>
<rect x="1068.1" y="55.6" width="5.8" height="27.6" rx="1.4" fill="none" stroke="#262626" stroke-width="1"/>
<rect x="1075.6" y="55.6" width="5.8" height="27.6" rx="1.4" fill="none" stroke="#262626" stroke-width="1"/>
<rect x="1083.1" y="55.6" width="5.8" height="27.6" rx="1.4" fill="none" stroke="#262626" stroke-width="1"/>
<rect x="1090.6" y="55.6" width="5.8" height="27.6" rx="1.4" fill="none" stroke="#262626" stroke-width="1"/>
<rect x="1098.1" y="55.6" width="5.8" height="27.6" rx="1.4" fill="none" stroke="#262626" stroke-width="1"/>
<rect x="1105.6" y="55.6" width="5.8" height="27.6" rx="1.4" fill="none" stroke="#262626" stroke-width="1"/>
<rect x="1113.1" y="55.6" width="5.8" height="27.6" rx="1.4" fill="none" stroke="#262626" stroke-width="1"/>
<rect x="1120.6" y="55.6" width="5.8" height="27.6" rx="1.4" fill="none" stroke="#262626" stroke-width="1"/>
<rect x="1128.1" y="55.6" width="5.8" height="27.6" rx="1.4" fill="none" stroke="#262626" stroke-width="1"/>
<ellipse cx="1143.6" cy="69.2" rx="2.5" ry="1.95" fill="none" stroke="#262626" stroke-width="1"/>
<line x1="797" y1="149.5" x2="1007.5" y2="149.5" stroke="#262626" stroke-width="1.1"/>
<line x1="786.5" y1="154" x2="1007.5" y2="154" stroke="#262626" stroke-width="2.2"/>
<path d="M792,154.7 Q792.5,159.4 795.5,159.4 L1007.5,159.4" fill="none" stroke="#262626" stroke-width="1.1"/>
<rect x="785.2" y="151.7" width="4.5" height="4" rx="1" fill="#262626" stroke="#262626" stroke-width="0"/>
<line x1="785.5" y1="120.6" x2="785.5" y2="154.2" stroke="#262626" stroke-width="1.3"/>
<path d="M785.5,120.6 L823.1,120.6 Q824.7,120.6 824.7,122.2 L824.7,129.4" fill="none" stroke="#262626" stroke-width="1.4"/>
<line x1="791.6" y1="120" x2="817.1" y2="120" stroke="#262626" stroke-width="1.8"/>
<rect x="795.5" y="120.5" width="18" height="5" rx="0" fill="none" stroke="#262626" stroke-width="1"/>
<line x1="797.1" y1="126" x2="811.8" y2="126" stroke="#262626" stroke-width="1.7"/>
<line x1="797.5" y1="126.1" x2="797.5" y2="149.4" stroke="#262626" stroke-width="1"/>
<line x1="811.5" y1="126.1" x2="811.5" y2="149.4" stroke="#262626" stroke-width="1.3"/>
<line x1="804.5" y1="124.6" x2="804.5" y2="151.9" stroke="#262626" stroke-width="1" stroke-dasharray="6 2 1.2 2"/>
<path d="M786.1,122.5 L796.6,130.5 L796.6,144.4 L786.8,152.9" fill="none" stroke="#262626" stroke-width="1"/>
<rect x="794.7" y="130.6" width="1.8" height="13.5" fill="#aaa"/>
<line x1="783.6" y1="137.5" x2="803.6" y2="137.5" stroke="#262626" stroke-width="0.9" stroke-dasharray="4 1.5 1 1.5"/>
<ellipse cx="791.4" cy="137.8" rx="1.5" ry="1.3" fill="#fff" stroke="#262626" stroke-width="1"/>
<path d="M811.85,149.4 L819.65,149.4 Q821.25,149.4 821.37,147.8 L822.48,132.5 Q822.6,130.9 824.2,130.9 L829,130.9 Q830.6,130.9 830.72,132.5 L831.83,147.8 Q831.95,149.4 833.55,149.4 L839.75,149.4 Q841.35,149.4 841.47,147.8 L842.58,132.5 Q842.7,130.9 844.3,130.9 L849.1,130.9 Q850.7,130.9 850.82,132.5 L851.93,147.8 Q852.05,149.4 853.65,149.4 L859.85,149.4 Q861.45,149.4 861.57,147.8 L862.68,132.5 Q862.8,130.9 864.4,130.9 L869.2,130.9 Q870.8,130.9 870.92,132.5 L872.03,147.8 Q872.15,149.4 873.75,149.4 L879.95,149.4 Q881.55,149.4 881.67,147.8 L882.78,132.5 Q882.9,130.9 884.5,130.9 L889.3,130.9 Q890.9,130.9 891.02,132.5 L892.13,147.8 Q892.25,149.4 893.85,149.4 L900.05,149.4 Q901.65,149.4 901.77,147.8 L902.88,132.5 Q903,130.9 904.6,130.9 L909.4,130.9 Q911,130.9 911.12,132.5 L912.23,147.8 Q912.35,149.4 913.95,149.4 L920.15,149.4 Q921.75,149.4 921.87,147.8 L922.98,132.5 Q923.1,130.9 924.7,130.9 L929.5,130.9 Q931.1,130.9 931.22,132.5 L932.33,147.8 Q932.45,149.4 934.05,149.4 L940.25,149.4 Q941.85,149.4 941.97,147.8 L943.08,132.5 Q943.2,130.9 944.8,130.9 L949.6,130.9 Q951.2,130.9 951.32,132.5 L952.43,147.8 Q952.55,149.4 954.15,149.4 L960.35,149.4 Q961.95,149.4 962.07,147.8 L963.18,132.5 Q963.3,130.9 964.9,130.9 L969.7,130.9 Q971.3,130.9 971.42,132.5 L972.53,147.8 Q972.65,149.4 974.25,149.4 L980.45,149.4 Q982.05,149.4 982.17,147.8 L983.28,132.5 Q983.4,130.9 985,130.9 L989.8,130.9 Q991.4,130.9 991.52,132.5 L992.63,147.8 Q992.75,149.4 994.35,149.4 L1000.55,149.4 Q1002.15,149.4 1002.27,147.8 L1003.38,132.5 Q1003.5,130.9 1005.1,130.9 L1007.5,130.9" fill="none" stroke="#262626" stroke-width="1.1"/>
<rect x="878.4" y="123.6" width="18" height="29.6" fill="#fff" stroke="none"/>
<path d="M878.4,153.2 L878.4,125.1 Q878.4,123.6 879.9,123.6 L894.9,123.6 Q896.4,123.6 896.4,125.1 L896.4,153.2" fill="none" stroke="#262626" stroke-width="1.1"/>
<rect x="882.5" y="137.5" width="10" height="3" rx="1.6" fill="none" stroke="#262626" stroke-width="1"/>
<rect x="953" y="120.4" width="30.6" height="33" fill="#fff" stroke="none"/>
<path d="M953,153.4 L953,121.9 Q953,120.4 954.5,120.4 L982.1,120.4 Q983.6,120.4 983.6,121.9 L983.6,153.4" fill="none" stroke="#262626" stroke-width="1.1"/>
<rect x="959.5" y="120.5" width="18" height="9" rx="0" fill="none" stroke="#262626" stroke-width="1"/>
<line x1="959.6" y1="121" x2="977" y2="121" stroke="#262626" stroke-width="1.8"/>
<rect x="962.5" y="137.5" width="11" height="3" rx="1.6" fill="none" stroke="#262626" stroke-width="1"/>
<path d="M1007.5,119.5 L1148,119.5 Q1150.5,119.5 1150.5,122 L1150.5,156 Q1150.5,158.5 1148,158.5 L1007.5,158.5 Z" fill="#fff" stroke="#262626" stroke-width="1"/>
<line x1="1007.5" y1="119.8" x2="1140.8" y2="119.8" stroke="#262626" stroke-width="1.4"/>
<line x1="1007.5" y1="158.2" x2="1140.8" y2="158.2" stroke="#262626" stroke-width="1.4"/>
<path d="M1008.7,124.6 L1011.1,124.6 Q1012.6,124.6 1012.6,126.1 L1012.6,150.8 Q1012.6,152.3 1011.1,152.3 L1008.7,152.3" fill="none" stroke="#262626" stroke-width="1"/>
<path d="M1008.7,123.6 C1010.9,132.91 1007.5,143.99 1009.1,153.3" fill="none" stroke="#333" stroke-width="0.9"/>
<rect x="1014.2" y="124.6" width="5.8" height="27.7" rx="1.4" fill="none" stroke="#262626" stroke-width="1"/>
<rect x="1021.8" y="124.6" width="5.8" height="27.7" rx="1.4" fill="none" stroke="#262626" stroke-width="1"/>
<rect x="1029.4" y="124.6" width="5.8" height="27.7" rx="1.4" fill="none" stroke="#262626" stroke-width="1"/>
<rect x="1037" y="124.6" width="5.8" height="27.7" rx="1.4" fill="none" stroke="#262626" stroke-width="1"/>
<rect x="1044.6" y="124.6" width="5.8" height="27.7" rx="1.4" fill="none" stroke="#262626" stroke-width="1"/>
<rect x="1052.2" y="124.6" width="5.8" height="27.7" rx="1.4" fill="none" stroke="#262626" stroke-width="1"/>
<rect x="1059.8" y="124.6" width="5.8" height="27.7" rx="1.4" fill="none" stroke="#262626" stroke-width="1"/>
<rect x="1067.4" y="124.6" width="5.8" height="27.7" rx="1.4" fill="none" stroke="#262626" stroke-width="1"/>
<rect x="1075" y="124.6" width="5.8" height="27.7" rx="1.4" fill="none" stroke="#262626" stroke-width="1"/>
<rect x="1082.6" y="124.6" width="5.8" height="27.7" rx="1.4" fill="none" stroke="#262626" stroke-width="1"/>
<rect x="1090.2" y="124.6" width="5.8" height="27.7" rx="1.4" fill="none" stroke="#262626" stroke-width="1"/>
<rect x="1097.8" y="124.6" width="5.8" height="27.7" rx="1.4" fill="none" stroke="#262626" stroke-width="1"/>
<rect x="1105.4" y="124.6" width="5.8" height="27.7" rx="1.4" fill="none" stroke="#262626" stroke-width="1"/>
<rect x="1113" y="124.6" width="5.8" height="27.7" rx="1.4" fill="none" stroke="#262626" stroke-width="1"/>
<rect x="1120.6" y="124.6" width="5.8" height="27.7" rx="1.4" fill="none" stroke="#262626" stroke-width="1"/>
<rect x="1128.2" y="124.6" width="5.8" height="27.7" rx="1.4" fill="none" stroke="#262626" stroke-width="1"/>
<ellipse cx="1142.6" cy="138.7" rx="2.5" ry="1.95" fill="none" stroke="#262626" stroke-width="1"/>
</g>
<path d="M790.7,192.75 Q791.2,187.3 795.7,187.3 L1002.2,187.3" fill="none" stroke="#262626" stroke-width="1.1"/>
<path d="M790.7,252 Q791.2,257.3 795.7,257.3 L1002.2,257.3" fill="none" stroke="#262626" stroke-width="1.1"/>
<line x1="788.2" y1="193" x2="1002.2" y2="193" stroke="#262626" stroke-width="2.2"/>
<line x1="788.2" y1="252" x2="1002.2" y2="252" stroke="#262626" stroke-width="2.2"/>
<line x1="796.2" y1="198.5" x2="1002.2" y2="198.5" stroke="#262626" stroke-width="1"/>
<line x1="796.2" y1="246.5" x2="1002.2" y2="246.5" stroke="#262626" stroke-width="1"/>
<line x1="786.5" y1="191.25" x2="786.5" y2="253.5" stroke="#262626" stroke-width="1.3"/>
<rect x="786" y="190.75" width="4.5" height="3.8" rx="1.2" fill="#262626" stroke="#262626" stroke-width="0"/>
<rect x="786" y="250.2" width="4.5" height="3.8" rx="1.2" fill="#262626" stroke="#262626" stroke-width="0"/>
<path d="M787.7,193.25 L795.8,203.8 L795.8,241.2 L787.7,251.5" fill="none" stroke="#262626" stroke-width="1"/>
<line x1="797.5" y1="198.3" x2="797.5" y2="246.7" stroke="#262626" stroke-width="1"/>
<line x1="805.5" y1="196.3" x2="805.5" y2="249.2" stroke="#262626" stroke-width="1" stroke-dasharray="6 2 1.2 2"/>
<line x1="812.5" y1="198.3" x2="812.5" y2="246.7" stroke="#262626" stroke-width="1"/>
<line x1="781.2" y1="222.5" x2="800.2" y2="222.5" stroke="#262626" stroke-width="0.9" stroke-dasharray="4 1.5 1 1.5"/>
<ellipse cx="791.8" cy="222" rx="1.3" ry="1.3" fill="#262626" stroke="#262626" stroke-width="1"/>
<rect x="868.8" y="193.75" width="15.2" height="57.25" fill="#fff" stroke="none"/>
<line x1="868.5" y1="193.75" x2="868.5" y2="251" stroke="#262626" stroke-width="1.1"/>
<line x1="884.5" y1="193.75" x2="884.5" y2="251" stroke="#262626" stroke-width="1.1"/>
<rect x="873.5" y="216.5" width="8" height="4" rx="0.9" fill="none" stroke="#262626" stroke-width="1"/>
<rect x="871.5" y="224.5" width="7" height="4" rx="0.9" fill="none" stroke="#262626" stroke-width="1"/>
<rect x="959.9" y="193.75" width="14" height="57.25" fill="#fff" stroke="none"/>
<line x1="959.5" y1="193.75" x2="959.5" y2="251" stroke="#262626" stroke-width="1.1"/>
<line x1="973.5" y1="193.75" x2="973.5" y2="251" stroke="#262626" stroke-width="1.1"/>
<rect x="964.5" y="216.5" width="7" height="4" rx="0.9" fill="none" stroke="#262626" stroke-width="1"/>
<rect x="961.5" y="224.5" width="7" height="4" rx="0.9" fill="none" stroke="#262626" stroke-width="1"/>
<path d="M1002.5,187.5 L1148,187.5 Q1150.5,187.5 1150.5,190 L1150.5,255 Q1150.5,257.5 1148,257.5 L1002.5,257.5 Z" fill="#fff" stroke="#262626" stroke-width="1"/>
<line x1="1002.2" y1="187.8" x2="1140.3" y2="187.8" stroke="#262626" stroke-width="1.4"/>
<line x1="1002.2" y1="257.2" x2="1140.3" y2="257.2" stroke="#262626" stroke-width="1.4"/>
<path d="M1003.4,194.9 L1004.9,194.9 Q1006.4,194.9 1006.4,196.4 L1006.4,247.3 Q1006.4,248.8 1004.9,248.8 L1003.4,248.8" fill="none" stroke="#262626" stroke-width="1"/>
<path d="M1003.4,193.9 C1005.6,211.07 1002.2,232.63 1003.8,249.8" fill="none" stroke="#333" stroke-width="0.9"/>
<rect x="1008.5" y="194.5" width="5" height="54" rx="1.4" fill="none" stroke="#262626" stroke-width="1"/>
<rect x="1015.5" y="194.5" width="5" height="54" rx="1.4" fill="none" stroke="#262626" stroke-width="1"/>
<rect x="1023.5" y="194.5" width="5" height="54" rx="1.4" fill="none" stroke="#262626" stroke-width="1"/>
<rect x="1030.5" y="194.5" width="5" height="54" rx="1.4" fill="none" stroke="#262626" stroke-width="1"/>
<rect x="1038.5" y="194.5" width="5" height="54" rx="1.4" fill="none" stroke="#262626" stroke-width="1"/>
<rect x="1045.5" y="194.5" width="5" height="54" rx="1.4" fill="none" stroke="#262626" stroke-width="1"/>
<rect x="1053.5" y="194.5" width="5" height="54" rx="1.4" fill="none" stroke="#262626" stroke-width="1"/>
<rect x="1060.5" y="194.5" width="5" height="54" rx="1.4" fill="none" stroke="#262626" stroke-width="1"/>
<rect x="1068.5" y="194.5" width="5" height="54" rx="1.4" fill="none" stroke="#262626" stroke-width="1"/>
<rect x="1075.5" y="194.5" width="5" height="54" rx="1.4" fill="none" stroke="#262626" stroke-width="1"/>
<rect x="1083.5" y="194.5" width="5" height="54" rx="1.4" fill="none" stroke="#262626" stroke-width="1"/>
<rect x="1090.5" y="194.5" width="5" height="54" rx="1.4" fill="none" stroke="#262626" stroke-width="1"/>
<rect x="1098.5" y="194.5" width="5" height="54" rx="1.4" fill="none" stroke="#262626" stroke-width="1"/>
<rect x="1105.5" y="194.5" width="5" height="54" rx="1.4" fill="none" stroke="#262626" stroke-width="1"/>
<rect x="1113.5" y="194.5" width="5" height="54" rx="1.4" fill="none" stroke="#262626" stroke-width="1"/>
<rect x="1120.5" y="194.5" width="5" height="54" rx="1.4" fill="none" stroke="#262626" stroke-width="1"/>
<rect x="1128.5" y="194.5" width="5" height="54" rx="1.4" fill="none" stroke="#262626" stroke-width="1"/>
<ellipse cx="1143.6" cy="222.3" rx="2.5" ry="1.95" fill="none" stroke="#262626" stroke-width="1"/>
<path d="M791,290.7 Q791.5,284.6 796,284.6 L1006.1,284.6" fill="none" stroke="#262626" stroke-width="1.1"/>
<path d="M791,329.2 Q791.5,334.2 796,334.2 L1006.1,334.2" fill="none" stroke="#262626" stroke-width="1.1"/>
<line x1="788.5" y1="291" x2="1006.1" y2="291" stroke="#262626" stroke-width="2.2"/>
<line x1="788.5" y1="329" x2="1006.1" y2="329" stroke="#262626" stroke-width="2.2"/>
<line x1="796.5" y1="296.5" x2="1006.1" y2="296.5" stroke="#262626" stroke-width="1"/>
<line x1="796.5" y1="323.5" x2="1006.1" y2="323.5" stroke="#262626" stroke-width="1"/>
<line x1="786.5" y1="289.2" x2="786.5" y2="330.7" stroke="#262626" stroke-width="1.3"/>
<rect x="786.3" y="288.7" width="4.5" height="3.8" rx="1.2" fill="#262626" stroke="#262626" stroke-width="0"/>
<rect x="786.3" y="327.4" width="4.5" height="3.8" rx="1.2" fill="#262626" stroke="#262626" stroke-width="0"/>
<path d="M788,291.2 L797.3,302.1 L797.3,317.7 L788,328.7" fill="none" stroke="#262626" stroke-width="1"/>
<rect x="797.5" y="298.5" width="4" height="22" rx="0" fill="none" stroke="#555" stroke-width="0.9"/>
<line x1="799.5" y1="296.6" x2="799.5" y2="323.2" stroke="#262626" stroke-width="1"/>
<line x1="810.5" y1="294.6" x2="810.5" y2="323.7" stroke="#262626" stroke-width="1.3" stroke-dasharray="2.2 1.6"/>
<line x1="819.5" y1="296.6" x2="819.5" y2="323.2" stroke="#262626" stroke-width="1"/>
<line x1="781.5" y1="309.5" x2="800.5" y2="309.5" stroke="#262626" stroke-width="0.9" stroke-dasharray="4 1.5 1 1.5"/>
<ellipse cx="793.1" cy="309" rx="1.3" ry="1.3" fill="#262626" stroke="#262626" stroke-width="1"/>
<path d="M821.8,323.2 L829.05,323.2 Q830.65,323.2 830.74,321.6 L831.96,301.1 Q832.05,299.5 833.65,299.5 L844.15,299.5 Q845.75,299.5 845.84,301.1 L847.06,321.6 Q847.15,323.2 848.75,323.2 L854.55,323.2 Q856.15,323.2 856.24,321.6 L857.46,301.1 Q857.55,299.5 859.15,299.5 L869.65,299.5 Q871.25,299.5 871.34,301.1 L872.56,321.6 Q872.65,323.2 874.25,323.2 L880.05,323.2 Q881.65,323.2 881.74,321.6 L882.96,301.1 Q883.05,299.5 884.65,299.5 L895.15,299.5 Q896.75,299.5 896.84,301.1 L898.06,321.6 Q898.15,323.2 899.75,323.2 L905.55,323.2 Q907.15,323.2 907.24,321.6 L908.46,301.1 Q908.55,299.5 910.15,299.5 L920.65,299.5 Q922.25,299.5 922.34,301.1 L923.56,321.6 Q923.65,323.2 925.25,323.2 L931.05,323.2 Q932.65,323.2 932.74,321.6 L933.96,301.1 Q934.05,299.5 935.65,299.5 L946.15,299.5 Q947.75,299.5 947.84,301.1 L949.06,321.6 Q949.15,323.2 950.75,323.2 L956.55,323.2 Q958.15,323.2 958.24,321.6 L959.46,301.1 Q959.55,299.5 961.15,299.5 L971.65,299.5 Q973.25,299.5 973.34,301.1 L974.56,321.6 Q974.65,323.2 976.25,323.2 L982.05,323.2 Q983.65,323.2 983.74,321.6 L984.96,301.1 Q985.05,299.5 986.65,299.5 L997.15,299.5 Q998.75,299.5 998.84,301.1 L1000.06,321.6 Q1000.15,323.2 1001.75,323.2 L1006.1,323.2" fill="none" stroke="#262626" stroke-width="1"/>
<rect x="869.4" y="291.7" width="13.6" height="36.5" fill="#fff" stroke="none"/>
<line x1="869.5" y1="291.7" x2="869.5" y2="328.2" stroke="#262626" stroke-width="1.1"/>
<line x1="883.5" y1="291.7" x2="883.5" y2="328.2" stroke="#262626" stroke-width="1.1"/>
<rect x="874.5" y="303.5" width="7" height="3" rx="0.9" fill="none" stroke="#262626" stroke-width="1"/>
<rect x="871.5" y="310.5" width="7" height="3" rx="0.9" fill="none" stroke="#262626" stroke-width="1"/>
<rect x="959.2" y="291.7" width="12.6" height="36.5" fill="#fff" stroke="none"/>
<line x1="959.5" y1="291.7" x2="959.5" y2="328.2" stroke="#262626" stroke-width="1.1"/>
<line x1="971.5" y1="291.7" x2="971.5" y2="328.2" stroke="#262626" stroke-width="1.1"/>
<rect x="964.5" y="303.5" width="6" height="3" rx="0.9" fill="none" stroke="#262626" stroke-width="1"/>
<rect x="960.5" y="310.5" width="7" height="3" rx="0.9" fill="none" stroke="#262626" stroke-width="1"/>
<path d="M1006.5,285.5 L1149,285.5 Q1151.5,285.5 1151.5,288 L1151.5,331 Q1151.5,333.5 1149,333.5 L1006.5,333.5 Z" fill="#fff" stroke="#262626" stroke-width="1"/>
<line x1="1006.1" y1="285.8" x2="1141.2" y2="285.8" stroke="#262626" stroke-width="1.4"/>
<line x1="1006.1" y1="333.2" x2="1141.2" y2="333.2" stroke="#262626" stroke-width="1.4"/>
<path d="M1007.3,290.9 L1009.2,290.9 Q1010.7,290.9 1010.7,292.4 L1010.7,326.2 Q1010.7,327.7 1009.2,327.7 L1007.3,327.7" fill="none" stroke="#262626" stroke-width="1"/>
<path d="M1007.3,289.9 C1009.5,301.94 1006.1,316.66 1007.7,328.7" fill="none" stroke="#333" stroke-width="0.9"/>
<rect x="1012.3" y="290.9" width="4.9" height="36.8" rx="1.4" fill="none" stroke="#262626" stroke-width="1"/>
<rect x="1019.25" y="290.9" width="4.9" height="36.8" rx="1.4" fill="none" stroke="#262626" stroke-width="1"/>
<rect x="1026.2" y="290.9" width="4.9" height="36.8" rx="1.4" fill="none" stroke="#262626" stroke-width="1"/>
<rect x="1033.15" y="290.9" width="4.9" height="36.8" rx="1.4" fill="none" stroke="#262626" stroke-width="1"/>
<rect x="1040.1" y="290.9" width="4.9" height="36.8" rx="1.4" fill="none" stroke="#262626" stroke-width="1"/>
<rect x="1047.05" y="290.9" width="4.9" height="36.8" rx="1.4" fill="none" stroke="#262626" stroke-width="1"/>
<rect x="1054" y="290.9" width="4.9" height="36.8" rx="1.4" fill="none" stroke="#262626" stroke-width="1"/>
<rect x="1060.95" y="290.9" width="4.9" height="36.8" rx="1.4" fill="none" stroke="#262626" stroke-width="1"/>
<rect x="1067.9" y="290.9" width="4.9" height="36.8" rx="1.4" fill="none" stroke="#262626" stroke-width="1"/>
<rect x="1074.85" y="290.9" width="4.9" height="36.8" rx="1.4" fill="none" stroke="#262626" stroke-width="1"/>
<rect x="1081.8" y="290.9" width="4.9" height="36.8" rx="1.4" fill="none" stroke="#262626" stroke-width="1"/>
<rect x="1088.75" y="290.9" width="4.9" height="36.8" rx="1.4" fill="none" stroke="#262626" stroke-width="1"/>
<rect x="1095.7" y="290.9" width="4.9" height="36.8" rx="1.4" fill="none" stroke="#262626" stroke-width="1"/>
<rect x="1102.65" y="290.9" width="4.9" height="36.8" rx="1.4" fill="none" stroke="#262626" stroke-width="1"/>
<rect x="1109.6" y="290.9" width="4.9" height="36.8" rx="1.4" fill="none" stroke="#262626" stroke-width="1"/>
<rect x="1116.55" y="290.9" width="4.9" height="36.8" rx="1.4" fill="none" stroke="#262626" stroke-width="1"/>
<rect x="1123.5" y="290.9" width="4.9" height="36.8" rx="1.4" fill="none" stroke="#262626" stroke-width="1"/>
<rect x="1130.45" y="290.9" width="4.9" height="36.8" rx="1.4" fill="none" stroke="#262626" stroke-width="1"/>
<ellipse cx="1143.2" cy="309" rx="2.5" ry="1.95" fill="none" stroke="#262626" stroke-width="1"/>
<path d="M790.2,367.2 Q790.7,361.9 795.2,361.9 L1000.8,361.9" fill="none" stroke="#262626" stroke-width="1.1"/>
<path d="M790.2,426.1 Q790.7,431.7 795.2,431.7 L1000.8,431.7" fill="none" stroke="#262626" stroke-width="1.1"/>
<line x1="787.7" y1="367" x2="1000.8" y2="367" stroke="#262626" stroke-width="2.2"/>
<line x1="787.7" y1="426" x2="1000.8" y2="426" stroke="#262626" stroke-width="2.2"/>
<line x1="795.7" y1="373.5" x2="1000.8" y2="373.5" stroke="#262626" stroke-width="1"/>
<line x1="795.7" y1="420.5" x2="1000.8" y2="420.5" stroke="#262626" stroke-width="1"/>
<line x1="785.5" y1="365.7" x2="785.5" y2="427.6" stroke="#262626" stroke-width="1.3"/>
<rect x="785.5" y="365.2" width="4.5" height="3.8" rx="1.2" fill="#262626" stroke="#262626" stroke-width="0"/>
<rect x="785.5" y="424.3" width="4.5" height="3.8" rx="1.2" fill="#262626" stroke="#262626" stroke-width="0"/>
<path d="M787.2,367.7 L796.4,378.8 L796.4,415.1 L787.2,425.6" fill="none" stroke="#262626" stroke-width="1"/>
<rect x="794.5" y="387.5" width="3" height="18" rx="0" fill="none" stroke="#555" stroke-width="0.9"/>
<line x1="797.5" y1="373.3" x2="797.5" y2="420.6" stroke="#262626" stroke-width="1"/>
<line x1="804.5" y1="371.3" x2="804.5" y2="423.1" stroke="#262626" stroke-width="1" stroke-dasharray="6 2 1.2 2"/>
<line x1="811.5" y1="373.3" x2="811.5" y2="420.6" stroke="#262626" stroke-width="1.4"/>
<line x1="780.7" y1="396.5" x2="799.7" y2="396.5" stroke="#262626" stroke-width="0.9" stroke-dasharray="4 1.5 1 1.5"/>
<ellipse cx="789.6" cy="396.5" rx="1.3" ry="1.3" fill="#262626" stroke="#262626" stroke-width="1"/>
<path d="M811.9,378.67 L812.29,374.89 Q812.45,373.3 814.05,373.3 L819.35,373.3 Q820.95,373.3 821.11,374.89 L822.89,392.21 Q823.05,393.8 824.65,393.8 L828.95,393.8 Q830.55,393.8 830.71,392.21 L832.49,374.89 Q832.65,373.3 834.25,373.3 L839.55,373.3 Q841.15,373.3 841.31,374.89 L843.09,392.21 Q843.25,393.8 844.85,393.8 L849.15,393.8 Q850.75,393.8 850.91,392.21 L852.69,374.89 Q852.85,373.3 854.45,373.3 L859.75,373.3 Q861.35,373.3 861.51,374.89 L863.29,392.21 Q863.45,393.8 865.05,393.8 L869.35,393.8 Q870.95,393.8 871.11,392.21 L872.89,374.89 Q873.05,373.3 874.65,373.3 L879.95,373.3 Q881.55,373.3 881.71,374.89 L883.49,392.21 Q883.65,393.8 885.25,393.8 L889.55,393.8 Q891.15,393.8 891.31,392.21 L893.09,374.89 Q893.25,373.3 894.85,373.3 L900.15,373.3 Q901.75,373.3 901.91,374.89 L903.69,392.21 Q903.85,393.8 905.45,393.8 L909.75,393.8 Q911.35,393.8 911.51,392.21 L913.29,374.89 Q913.45,373.3 915.05,373.3 L920.35,373.3 Q921.95,373.3 922.11,374.89 L923.89,392.21 Q924.05,393.8 925.65,393.8 L929.95,393.8 Q931.55,393.8 931.71,392.21 L933.49,374.89 Q933.65,373.3 935.25,373.3 L940.55,373.3 Q942.15,373.3 942.31,374.89 L944.09,392.21 Q944.25,393.8 945.85,393.8 L950.15,393.8 Q951.75,393.8 951.91,392.21 L953.69,374.89 Q953.85,373.3 955.45,373.3 L960.75,373.3 Q962.35,373.3 962.51,374.89 L964.29,392.21 Q964.45,393.8 966.05,393.8 L970.35,393.8 Q971.95,393.8 972.11,392.21 L973.89,374.89 Q974.05,373.3 975.65,373.3 L980.95,373.3 Q982.55,373.3 982.71,374.89 L984.49,392.21 Q984.65,393.8 986.25,393.8 L990.55,393.8 Q992.15,393.8 992.31,392.21 L994.09,374.89 Q994.25,373.3 995.85,373.3 L1000.8,373.3" fill="none" stroke="#262626" stroke-width="1"/>
<path d="M811.9,415.15 L812.29,419.01 Q812.45,420.6 814.05,420.6 L819.35,420.6 Q820.95,420.6 821.11,419.01 L822.89,401.39 Q823.05,399.8 824.65,399.8 L828.95,399.8 Q830.55,399.8 830.71,401.39 L832.49,419.01 Q832.65,420.6 834.25,420.6 L839.55,420.6 Q841.15,420.6 841.31,419.01 L843.09,401.39 Q843.25,399.8 844.85,399.8 L849.15,399.8 Q850.75,399.8 850.91,401.39 L852.69,419.01 Q852.85,420.6 854.45,420.6 L859.75,420.6 Q861.35,420.6 861.51,419.01 L863.29,401.39 Q863.45,399.8 865.05,399.8 L869.35,399.8 Q870.95,399.8 871.11,401.39 L872.89,419.01 Q873.05,420.6 874.65,420.6 L879.95,420.6 Q881.55,420.6 881.71,419.01 L883.49,401.39 Q883.65,399.8 885.25,399.8 L889.55,399.8 Q891.15,399.8 891.31,401.39 L893.09,419.01 Q893.25,420.6 894.85,420.6 L900.15,420.6 Q901.75,420.6 901.91,419.01 L903.69,401.39 Q903.85,399.8 905.45,399.8 L909.75,399.8 Q911.35,399.8 911.51,401.39 L913.29,419.01 Q913.45,420.6 915.05,420.6 L920.35,420.6 Q921.95,420.6 922.11,419.01 L923.89,401.39 Q924.05,399.8 925.65,399.8 L929.95,399.8 Q931.55,399.8 931.71,401.39 L933.49,419.01 Q933.65,420.6 935.25,420.6 L940.55,420.6 Q942.15,420.6 942.31,419.01 L944.09,401.39 Q944.25,399.8 945.85,399.8 L950.15,399.8 Q951.75,399.8 951.91,401.39 L953.69,419.01 Q953.85,420.6 955.45,420.6 L960.75,420.6 Q962.35,420.6 962.51,419.01 L964.29,401.39 Q964.45,399.8 966.05,399.8 L970.35,399.8 Q971.95,399.8 972.11,401.39 L973.89,419.01 Q974.05,420.6 975.65,420.6 L980.95,420.6 Q982.55,420.6 982.71,419.01 L984.49,401.39 Q984.65,399.8 986.25,399.8 L990.55,399.8 Q992.15,399.8 992.31,401.39 L994.09,419.01 Q994.25,420.6 995.85,420.6 L1000.8,420.6" fill="none" stroke="#262626" stroke-width="1"/>
<rect x="868.8" y="368.2" width="14.3" height="56.9" fill="#fff" stroke="none"/>
<line x1="868.5" y1="368.2" x2="868.5" y2="425.1" stroke="#262626" stroke-width="1.1"/>
<line x1="883.5" y1="368.2" x2="883.5" y2="425.1" stroke="#262626" stroke-width="1.1"/>
<rect x="872.5" y="391.5" width="8" height="3" rx="0.9" fill="none" stroke="#262626" stroke-width="1"/>
<rect x="869.5" y="399.5" width="8" height="3" rx="0.9" fill="none" stroke="#262626" stroke-width="1"/>
<rect x="958.4" y="368.2" width="14.4" height="56.9" fill="#fff" stroke="none"/>
<line x1="958.5" y1="368.2" x2="958.5" y2="425.1" stroke="#262626" stroke-width="1.1"/>
<line x1="972.5" y1="368.2" x2="972.5" y2="425.1" stroke="#262626" stroke-width="1.1"/>
<rect x="963.5" y="391.5" width="8" height="3" rx="0.9" fill="none" stroke="#262626" stroke-width="1"/>
<rect x="960.5" y="399.5" width="8" height="3" rx="0.9" fill="none" stroke="#262626" stroke-width="1"/>
<path d="M1000.5,362.5 L1148,362.5 Q1150.5,362.5 1150.5,365 L1150.5,429 Q1150.5,431.5 1148,431.5 L1000.5,431.5 Z" fill="#fff" stroke="#262626" stroke-width="1"/>
<line x1="1000.8" y1="362.8" x2="1140.1" y2="362.8" stroke="#262626" stroke-width="1.4"/>
<line x1="1000.8" y1="431.2" x2="1140.1" y2="431.2" stroke="#262626" stroke-width="1.4"/>
<path d="M1002,369.5 L1004.2,369.5 Q1005.7,369.5 1005.7,371 L1005.7,422.4 Q1005.7,423.9 1004.2,423.9 L1002,423.9" fill="none" stroke="#262626" stroke-width="1"/>
<path d="M1002,368.5 C1004.2,385.82 1000.8,407.58 1002.4,424.9" fill="none" stroke="#333" stroke-width="0.9"/>
<rect x="1007.5" y="369.5" width="5" height="54" rx="1.4" fill="none" stroke="#262626" stroke-width="1"/>
<rect x="1014.5" y="369.5" width="5" height="54" rx="1.4" fill="none" stroke="#262626" stroke-width="1"/>
<rect x="1022.5" y="369.5" width="5" height="54" rx="1.4" fill="none" stroke="#262626" stroke-width="1"/>
<rect x="1029.5" y="369.5" width="5" height="54" rx="1.4" fill="none" stroke="#262626" stroke-width="1"/>
<rect x="1037.5" y="369.5" width="5" height="54" rx="1.4" fill="none" stroke="#262626" stroke-width="1"/>
<rect x="1044.5" y="369.5" width="5" height="54" rx="1.4" fill="none" stroke="#262626" stroke-width="1"/>
<rect x="1052.5" y="369.5" width="5" height="54" rx="1.4" fill="none" stroke="#262626" stroke-width="1"/>
<rect x="1060.5" y="369.5" width="5" height="54" rx="1.4" fill="none" stroke="#262626" stroke-width="1"/>
<rect x="1067.5" y="369.5" width="5" height="54" rx="1.4" fill="none" stroke="#262626" stroke-width="1"/>
<rect x="1075.5" y="369.5" width="5" height="54" rx="1.4" fill="none" stroke="#262626" stroke-width="1"/>
<rect x="1082.5" y="369.5" width="5" height="54" rx="1.4" fill="none" stroke="#262626" stroke-width="1"/>
<rect x="1090.5" y="369.5" width="5" height="54" rx="1.4" fill="none" stroke="#262626" stroke-width="1"/>
<rect x="1097.5" y="369.5" width="5" height="54" rx="1.4" fill="none" stroke="#262626" stroke-width="1"/>
<rect x="1105.5" y="369.5" width="5" height="54" rx="1.4" fill="none" stroke="#262626" stroke-width="1"/>
<rect x="1112.5" y="369.5" width="5" height="54" rx="1.4" fill="none" stroke="#262626" stroke-width="1"/>
<rect x="1120.5" y="369.5" width="5" height="54" rx="1.4" fill="none" stroke="#262626" stroke-width="1"/>
<rect x="1127.5" y="369.5" width="5" height="54" rx="1.4" fill="none" stroke="#262626" stroke-width="1"/>
<ellipse cx="1142.3" cy="396.8" rx="2.5" ry="1.95" fill="none" stroke="#262626" stroke-width="1"/>
<path d="M791.4,464.7 Q791.9,459.5 796.4,459.5 L1004.4,459.5" fill="none" stroke="#262626" stroke-width="1.1"/>
<path d="M791.4,558.4 Q791.9,563.9 796.4,563.9 L1004.4,563.9" fill="none" stroke="#262626" stroke-width="1.1"/>
<line x1="788.9" y1="465" x2="1004.4" y2="465" stroke="#262626" stroke-width="2.2"/>
<line x1="788.9" y1="558" x2="1004.4" y2="558" stroke="#262626" stroke-width="2.2"/>
<line x1="796.9" y1="470.5" x2="1004.4" y2="470.5" stroke="#262626" stroke-width="1"/>
<line x1="796.9" y1="553.5" x2="885.6" y2="553.5" stroke="#262626" stroke-width="1"/>
<line x1="961" y1="553.5" x2="1004.4" y2="553.5" stroke="#262626" stroke-width="1"/>
<line x1="796.9" y1="515.5" x2="1004.4" y2="515.5" stroke="#262626" stroke-width="1"/>
<line x1="788.9" y1="521" x2="1004.4" y2="521" stroke="#262626" stroke-width="2.2"/>
<line x1="796.9" y1="527.5" x2="1004.4" y2="527.5" stroke="#262626" stroke-width="1"/>
<line x1="786.5" y1="463.2" x2="786.5" y2="559.9" stroke="#262626" stroke-width="1.3"/>
<rect x="786.7" y="462.7" width="4.5" height="3.8" rx="1.2" fill="#262626" stroke="#262626" stroke-width="0"/>
<rect x="786.7" y="556.6" width="4.5" height="3.8" rx="1.2" fill="#262626" stroke="#262626" stroke-width="0"/>
<path d="M788.4,465.2 L796.8,475.6 L796.8,512.6 L788.9,519.8" fill="none" stroke="#262626" stroke-width="1"/>
<path d="M788.9,522.8 L796.8,530 L796.8,548.3 L788.4,557.9" fill="none" stroke="#262626" stroke-width="1"/>
<rect x="796.5" y="483.5" width="3" height="18" rx="0" fill="none" stroke="#555" stroke-width="0.9"/>
<line x1="799.5" y1="470.1" x2="799.5" y2="515.6" stroke="#262626" stroke-width="1"/>
<line x1="799.5" y1="527" x2="799.5" y2="553.8" stroke="#262626" stroke-width="1"/>
<line x1="806.5" y1="468.1" x2="806.5" y2="556.3" stroke="#262626" stroke-width="1" stroke-dasharray="6 2 1.2 2"/>
<line x1="813.5" y1="470.1" x2="813.5" y2="515.6" stroke="#262626" stroke-width="1"/>
<line x1="813.5" y1="527" x2="813.5" y2="553.8" stroke="#262626" stroke-width="1"/>
<line x1="781.9" y1="511.5" x2="800.9" y2="511.5" stroke="#262626" stroke-width="0.9" stroke-dasharray="4 1.5 1 1.5"/>
<ellipse cx="793.3" cy="511.2" rx="1.3" ry="1.3" fill="#262626" stroke="#262626" stroke-width="1"/>
<rect x="870" y="465.7" width="15.6" height="91.7" fill="#fff" stroke="none"/>
<line x1="870.5" y1="465.7" x2="870.5" y2="557.4" stroke="#262626" stroke-width="1.1"/>
<line x1="885.5" y1="465.7" x2="885.5" y2="557.4" stroke="#262626" stroke-width="1.1"/>
<rect x="875.5" y="487.5" width="8" height="3" rx="0.9" fill="none" stroke="#262626" stroke-width="1"/>
<rect x="872.5" y="495.5" width="8" height="4" rx="0.9" fill="none" stroke="#262626" stroke-width="1"/>
<line x1="870" y1="521" x2="885.6" y2="521" stroke="#262626" stroke-width="2.2"/>
<rect x="961" y="465.7" width="15" height="91.7" fill="#fff" stroke="none"/>
<line x1="961.5" y1="465.7" x2="961.5" y2="557.4" stroke="#262626" stroke-width="1.1"/>
<line x1="976.5" y1="465.7" x2="976.5" y2="557.4" stroke="#262626" stroke-width="1.1"/>
<rect x="965.5" y="487.5" width="8" height="3" rx="0.9" fill="none" stroke="#262626" stroke-width="1"/>
<rect x="963.5" y="495.5" width="7" height="4" rx="0.9" fill="none" stroke="#262626" stroke-width="1"/>
<line x1="961" y1="521" x2="976" y2="521" stroke="#262626" stroke-width="2.2"/>
<path d="M1004.5,459.5 L1149,459.5 Q1151.5,459.5 1151.5,462 L1151.5,561 Q1151.5,563.5 1149,563.5 L1004.5,563.5 Z" fill="#fff" stroke="#262626" stroke-width="1"/>
<line x1="1004.4" y1="459.8" x2="1141.6" y2="459.8" stroke="#262626" stroke-width="1.4"/>
<line x1="1004.4" y1="563.2" x2="1141.6" y2="563.2" stroke="#262626" stroke-width="1.4"/>
<path d="M1005.6,466.9 L1006.8,466.9 Q1008,466.9 1008,468.1 L1008,498.7 Q1008,499.9 1006.8,499.9 L1005.6,499.9" fill="none" stroke="#262626" stroke-width="1"/>
<path d="M1005.6,465.9 C1007.8,476.8 1004.4,490 1006,500.9" fill="none" stroke="#333" stroke-width="0.9"/>
<path d="M1005.6,503.5 L1006.8,503.5 Q1008,503.5 1008,504.7 L1008,518.7 Q1008,519.9 1006.8,519.9 L1005.6,519.9" fill="none" stroke="#262626" stroke-width="1"/>
<path d="M1005.6,502.5 C1007.8,508.42 1004.4,514.98 1006,520.9" fill="none" stroke="#333" stroke-width="0.9"/>
<path d="M1005.6,523.5 L1006.8,523.5 Q1008,523.5 1008,524.7 L1008,554.7 Q1008,555.9 1006.8,555.9 L1005.6,555.9" fill="none" stroke="#262626" stroke-width="1"/>
<path d="M1005.6,522.5 C1007.8,533.22 1004.4,546.18 1006,556.9" fill="none" stroke="#333" stroke-width="0.9"/>
<rect x="1009.5" y="466.5" width="5" height="33" rx="1.4" fill="none" stroke="#262626" stroke-width="1"/>
<rect x="1017.5" y="466.5" width="5" height="33" rx="1.4" fill="none" stroke="#262626" stroke-width="1"/>
<rect x="1024.5" y="466.5" width="5" height="33" rx="1.4" fill="none" stroke="#262626" stroke-width="1"/>
<rect x="1032.5" y="466.5" width="5" height="33" rx="1.4" fill="none" stroke="#262626" stroke-width="1"/>
<rect x="1039.5" y="466.5" width="5" height="33" rx="1.4" fill="none" stroke="#262626" stroke-width="1"/>
<rect x="1047.5" y="466.5" width="5" height="33" rx="1.4" fill="none" stroke="#262626" stroke-width="1"/>
<rect x="1054.5" y="466.5" width="5" height="33" rx="1.4" fill="none" stroke="#262626" stroke-width="1"/>
<rect x="1062.5" y="466.5" width="5" height="33" rx="1.4" fill="none" stroke="#262626" stroke-width="1"/>
<rect x="1069.5" y="466.5" width="5" height="33" rx="1.4" fill="none" stroke="#262626" stroke-width="1"/>
<rect x="1077.5" y="466.5" width="5" height="33" rx="1.4" fill="none" stroke="#262626" stroke-width="1"/>
<rect x="1084.5" y="466.5" width="5" height="33" rx="1.4" fill="none" stroke="#262626" stroke-width="1"/>
<rect x="1092.5" y="466.5" width="5" height="33" rx="1.4" fill="none" stroke="#262626" stroke-width="1"/>
<rect x="1099.5" y="466.5" width="5" height="33" rx="1.4" fill="none" stroke="#262626" stroke-width="1"/>
<rect x="1107.5" y="466.5" width="5" height="33" rx="1.4" fill="none" stroke="#262626" stroke-width="1"/>
<rect x="1114.5" y="466.5" width="5" height="33" rx="1.4" fill="none" stroke="#262626" stroke-width="1"/>
<rect x="1122.5" y="466.5" width="5" height="33" rx="1.4" fill="none" stroke="#262626" stroke-width="1"/>
<rect x="1130.5" y="466.5" width="5" height="33" rx="1.4" fill="none" stroke="#262626" stroke-width="1"/>
<rect x="1009.5" y="503.5" width="5" height="16" rx="1.4" fill="none" stroke="#262626" stroke-width="1"/>
<rect x="1017.5" y="503.5" width="5" height="16" rx="1.4" fill="none" stroke="#262626" stroke-width="1"/>
<rect x="1024.5" y="503.5" width="5" height="16" rx="1.4" fill="none" stroke="#262626" stroke-width="1"/>
<rect x="1032.5" y="503.5" width="5" height="16" rx="1.4" fill="none" stroke="#262626" stroke-width="1"/>
<rect x="1039.5" y="503.5" width="5" height="16" rx="1.4" fill="none" stroke="#262626" stroke-width="1"/>
<rect x="1047.5" y="503.5" width="5" height="16" rx="1.4" fill="none" stroke="#262626" stroke-width="1"/>
<rect x="1054.5" y="503.5" width="5" height="16" rx="1.4" fill="none" stroke="#262626" stroke-width="1"/>
<rect x="1062.5" y="503.5" width="5" height="16" rx="1.4" fill="none" stroke="#262626" stroke-width="1"/>
<rect x="1069.5" y="503.5" width="5" height="16" rx="1.4" fill="none" stroke="#262626" stroke-width="1"/>
<rect x="1077.5" y="503.5" width="5" height="16" rx="1.4" fill="none" stroke="#262626" stroke-width="1"/>
<rect x="1084.5" y="503.5" width="5" height="16" rx="1.4" fill="none" stroke="#262626" stroke-width="1"/>
<rect x="1092.5" y="503.5" width="5" height="16" rx="1.4" fill="none" stroke="#262626" stroke-width="1"/>
<rect x="1099.5" y="503.5" width="5" height="16" rx="1.4" fill="none" stroke="#262626" stroke-width="1"/>
<rect x="1107.5" y="503.5" width="5" height="16" rx="1.4" fill="none" stroke="#262626" stroke-width="1"/>
<rect x="1114.5" y="503.5" width="5" height="16" rx="1.4" fill="none" stroke="#262626" stroke-width="1"/>
<rect x="1122.5" y="503.5" width="5" height="16" rx="1.4" fill="none" stroke="#262626" stroke-width="1"/>
<rect x="1130.5" y="503.5" width="5" height="16" rx="1.4" fill="none" stroke="#262626" stroke-width="1"/>
<rect x="1009.5" y="523.5" width="5" height="32" rx="1.4" fill="none" stroke="#262626" stroke-width="1"/>
<rect x="1017.5" y="523.5" width="5" height="32" rx="1.4" fill="none" stroke="#262626" stroke-width="1"/>
<rect x="1024.5" y="523.5" width="5" height="32" rx="1.4" fill="none" stroke="#262626" stroke-width="1"/>
<rect x="1032.5" y="523.5" width="5" height="32" rx="1.4" fill="none" stroke="#262626" stroke-width="1"/>
<rect x="1039.5" y="523.5" width="5" height="32" rx="1.4" fill="none" stroke="#262626" stroke-width="1"/>
<rect x="1047.5" y="523.5" width="5" height="32" rx="1.4" fill="none" stroke="#262626" stroke-width="1"/>
<rect x="1054.5" y="523.5" width="5" height="32" rx="1.4" fill="none" stroke="#262626" stroke-width="1"/>
<rect x="1062.5" y="523.5" width="5" height="32" rx="1.4" fill="none" stroke="#262626" stroke-width="1"/>
<rect x="1069.5" y="523.5" width="5" height="32" rx="1.4" fill="none" stroke="#262626" stroke-width="1"/>
<rect x="1077.5" y="523.5" width="5" height="32" rx="1.4" fill="none" stroke="#262626" stroke-width="1"/>
<rect x="1084.5" y="523.5" width="5" height="32" rx="1.4" fill="none" stroke="#262626" stroke-width="1"/>
<rect x="1092.5" y="523.5" width="5" height="32" rx="1.4" fill="none" stroke="#262626" stroke-width="1"/>
<rect x="1099.5" y="523.5" width="5" height="32" rx="1.4" fill="none" stroke="#262626" stroke-width="1"/>
<rect x="1107.5" y="523.5" width="5" height="32" rx="1.4" fill="none" stroke="#262626" stroke-width="1"/>
<rect x="1114.5" y="523.5" width="5" height="32" rx="1.4" fill="none" stroke="#262626" stroke-width="1"/>
<rect x="1122.5" y="523.5" width="5" height="32" rx="1.4" fill="none" stroke="#262626" stroke-width="1"/>
<rect x="1130.5" y="523.5" width="5" height="32" rx="1.4" fill="none" stroke="#262626" stroke-width="1"/>
<ellipse cx="1143.4" cy="511.4" rx="2.5" ry="1.95" fill="none" stroke="#262626" stroke-width="1"/>
<path d="M791.2,597.9 Q791.7,593.6 796.2,593.6 L1004.2,593.6" fill="none" stroke="#262626" stroke-width="1.1"/>
<path d="M791.2,691.1 Q791.7,697.3 796.2,697.3 L1004.2,697.3" fill="none" stroke="#262626" stroke-width="1.1"/>
<line x1="788.7" y1="598" x2="1004.2" y2="598" stroke="#262626" stroke-width="2.2"/>
<line x1="788.7" y1="691" x2="1004.2" y2="691" stroke="#262626" stroke-width="2.2"/>
<line x1="796.7" y1="604.5" x2="1004.2" y2="604.5" stroke="#262626" stroke-width="1"/>
<line x1="796.7" y1="686.5" x2="1004.2" y2="686.5" stroke="#262626" stroke-width="1"/>
<line x1="796.7" y1="648.5" x2="1004.2" y2="648.5" stroke="#262626" stroke-width="1"/>
<line x1="788.7" y1="654" x2="1004.2" y2="654" stroke="#262626" stroke-width="2.2"/>
<line x1="796.7" y1="659.5" x2="1004.2" y2="659.5" stroke="#262626" stroke-width="1"/>
<line x1="786.5" y1="596.4" x2="786.5" y2="692.6" stroke="#262626" stroke-width="1.3"/>
<rect x="786.5" y="595.9" width="4.5" height="3.8" rx="1.2" fill="#262626" stroke="#262626" stroke-width="0"/>
<rect x="786.5" y="689.3" width="4.5" height="3.8" rx="1.2" fill="#262626" stroke="#262626" stroke-width="0"/>
<path d="M788.2,598.4 L796.6,609.5 L796.6,645.8 L788.7,652.9" fill="none" stroke="#262626" stroke-width="1"/>
<path d="M788.7,655.9 L796.6,662.7 L796.6,680.8 L788.2,690.6" fill="none" stroke="#262626" stroke-width="1"/>
<rect x="796.5" y="617.5" width="3" height="18" rx="0" fill="none" stroke="#555" stroke-width="0.9"/>
<line x1="799.5" y1="604" x2="799.5" y2="648.8" stroke="#262626" stroke-width="1"/>
<line x1="799.5" y1="659.7" x2="799.5" y2="686.3" stroke="#262626" stroke-width="1"/>
<line x1="806.5" y1="602" x2="806.5" y2="688.8" stroke="#262626" stroke-width="1" stroke-dasharray="6 2 1.2 2"/>
<line x1="813.5" y1="604" x2="813.5" y2="648.8" stroke="#262626" stroke-width="1"/>
<line x1="813.5" y1="659.7" x2="813.5" y2="686.3" stroke="#262626" stroke-width="1"/>
<line x1="781.7" y1="645.5" x2="800.7" y2="645.5" stroke="#262626" stroke-width="0.9" stroke-dasharray="4 1.5 1 1.5"/>
<ellipse cx="793.2" cy="645" rx="1.3" ry="1.3" fill="#262626" stroke="#262626" stroke-width="1"/>
<path d="M813.4,607.67 L813.63,605.59 Q813.8,604 815.4,604 L820.5,604 Q822.1,604 822.27,605.59 L824.13,622.61 Q824.3,624.2 825.9,624.2 L830.2,624.2 Q831.8,624.2 831.97,622.61 L833.83,605.59 Q834,604 835.6,604 L840.7,604 Q842.3,604 842.47,605.59 L844.33,622.61 Q844.5,624.2 846.1,624.2 L850.4,624.2 Q852,624.2 852.17,622.61 L854.03,605.59 Q854.2,604 855.8,604 L860.9,604 Q862.5,604 862.67,605.59 L864.53,622.61 Q864.7,624.2 866.3,624.2 L870.6,624.2 Q872.2,624.2 872.37,622.61 L874.23,605.59 Q874.4,604 876,604 L881.1,604 Q882.7,604 882.87,605.59 L884.73,622.61 Q884.9,624.2 886.5,624.2 L890.8,624.2 Q892.4,624.2 892.57,622.61 L894.43,605.59 Q894.6,604 896.2,604 L901.3,604 Q902.9,604 903.07,605.59 L904.93,622.61 Q905.1,624.2 906.7,624.2 L911,624.2 Q912.6,624.2 912.77,622.61 L914.63,605.59 Q914.8,604 916.4,604 L921.5,604 Q923.1,604 923.27,605.59 L925.13,622.61 Q925.3,624.2 926.9,624.2 L931.2,624.2 Q932.8,624.2 932.97,622.61 L934.83,605.59 Q935,604 936.6,604 L941.7,604 Q943.3,604 943.47,605.59 L945.33,622.61 Q945.5,624.2 947.1,624.2 L951.4,624.2 Q953,624.2 953.17,622.61 L955.03,605.59 Q955.2,604 956.8,604 L961.9,604 Q963.5,604 963.67,605.59 L965.53,622.61 Q965.7,624.2 967.3,624.2 L971.6,624.2 Q973.2,624.2 973.37,622.61 L975.23,605.59 Q975.4,604 977,604 L982.1,604 Q983.7,604 983.87,605.59 L985.73,622.61 Q985.9,624.2 987.5,624.2 L991.8,624.2 Q993.4,624.2 993.57,622.61 L995.43,605.59 Q995.6,604 997.2,604 L1002.51,604 Q1003.9,604 1004.05,605.38 L1004.2,606.75" fill="none" stroke="#262626" stroke-width="1"/>
<path d="M813.4,645.27 L813.62,647.21 Q813.8,648.8 815.4,648.8 L820.5,648.8 Q822.1,648.8 822.28,647.21 L824.12,630.99 Q824.3,629.4 825.9,629.4 L830.2,629.4 Q831.8,629.4 831.98,630.99 L833.82,647.21 Q834,648.8 835.6,648.8 L840.7,648.8 Q842.3,648.8 842.48,647.21 L844.32,630.99 Q844.5,629.4 846.1,629.4 L850.4,629.4 Q852,629.4 852.18,630.99 L854.02,647.21 Q854.2,648.8 855.8,648.8 L860.9,648.8 Q862.5,648.8 862.68,647.21 L864.52,630.99 Q864.7,629.4 866.3,629.4 L870.6,629.4 Q872.2,629.4 872.38,630.99 L874.22,647.21 Q874.4,648.8 876,648.8 L881.1,648.8 Q882.7,648.8 882.88,647.21 L884.72,630.99 Q884.9,629.4 886.5,629.4 L890.8,629.4 Q892.4,629.4 892.58,630.99 L894.42,647.21 Q894.6,648.8 896.2,648.8 L901.3,648.8 Q902.9,648.8 903.08,647.21 L904.92,630.99 Q905.1,629.4 906.7,629.4 L911,629.4 Q912.6,629.4 912.78,630.99 L914.62,647.21 Q914.8,648.8 916.4,648.8 L921.5,648.8 Q923.1,648.8 923.28,647.21 L925.12,630.99 Q925.3,629.4 926.9,629.4 L931.2,629.4 Q932.8,629.4 932.98,630.99 L934.82,647.21 Q935,648.8 936.6,648.8 L941.7,648.8 Q943.3,648.8 943.48,647.21 L945.32,630.99 Q945.5,629.4 947.1,629.4 L951.4,629.4 Q953,629.4 953.18,630.99 L955.02,647.21 Q955.2,648.8 956.8,648.8 L961.9,648.8 Q963.5,648.8 963.68,647.21 L965.52,630.99 Q965.7,629.4 967.3,629.4 L971.6,629.4 Q973.2,629.4 973.38,630.99 L975.22,647.21 Q975.4,648.8 977,648.8 L982.1,648.8 Q983.7,648.8 983.88,647.21 L985.72,630.99 Q985.9,629.4 987.5,629.4 L991.8,629.4 Q993.4,629.4 993.58,630.99 L995.42,647.21 Q995.6,648.8 997.2,648.8 L1002.57,648.8 Q1003.9,648.8 1004.05,647.48 L1004.2,646.15" fill="none" stroke="#262626" stroke-width="1"/>
<path d="M813.4,682.79 L813.62,684.71 Q813.8,686.3 815.4,686.3 L820.5,686.3 Q822.1,686.3 822.28,684.71 L824.12,668.59 Q824.3,667 825.9,667 L830.2,667 Q831.8,667 831.98,668.59 L833.82,684.71 Q834,686.3 835.6,686.3 L840.7,686.3 Q842.3,686.3 842.48,684.71 L844.32,668.59 Q844.5,667 846.1,667 L850.4,667 Q852,667 852.18,668.59 L854.02,684.71 Q854.2,686.3 855.8,686.3 L860.9,686.3 Q862.5,686.3 862.68,684.71 L864.52,668.59 Q864.7,667 866.3,667 L870.6,667 Q872.2,667 872.38,668.59 L874.22,684.71 Q874.4,686.3 876,686.3 L881.1,686.3 Q882.7,686.3 882.88,684.71 L884.72,668.59 Q884.9,667 886.5,667 L890.8,667 Q892.4,667 892.58,668.59 L894.42,684.71 Q894.6,686.3 896.2,686.3 L901.3,686.3 Q902.9,686.3 903.08,684.71 L904.92,668.59 Q905.1,667 906.7,667 L911,667 Q912.6,667 912.78,668.59 L914.62,684.71 Q914.8,686.3 916.4,686.3 L921.5,686.3 Q923.1,686.3 923.28,684.71 L925.12,668.59 Q925.3,667 926.9,667 L931.2,667 Q932.8,667 932.98,668.59 L934.82,684.71 Q935,686.3 936.6,686.3 L941.7,686.3 Q943.3,686.3 943.48,684.71 L945.32,668.59 Q945.5,667 947.1,667 L951.4,667 Q953,667 953.18,668.59 L955.02,684.71 Q955.2,686.3 956.8,686.3 L961.9,686.3 Q963.5,686.3 963.68,684.71 L965.52,668.59 Q965.7,667 967.3,667 L971.6,667 Q973.2,667 973.38,668.59 L975.22,684.71 Q975.4,686.3 977,686.3 L982.1,686.3 Q983.7,686.3 983.88,684.71 L985.72,668.59 Q985.9,667 987.5,667 L991.8,667 Q993.4,667 993.58,668.59 L995.42,684.71 Q995.6,686.3 997.2,686.3 L1002.58,686.3 Q1003.9,686.3 1004.05,684.98 L1004.2,683.67" fill="none" stroke="#262626" stroke-width="1"/>
<rect x="870.3" y="598.9" width="14.9" height="91.2" fill="#fff" stroke="none"/>
<line x1="870.5" y1="598.9" x2="870.5" y2="690.1" stroke="#262626" stroke-width="1.1"/>
<line x1="885.5" y1="598.9" x2="885.5" y2="690.1" stroke="#262626" stroke-width="1.1"/>
<rect x="875.5" y="621.5" width="7" height="3" rx="0.9" fill="none" stroke="#262626" stroke-width="1"/>
<rect x="872.5" y="629.5" width="7" height="3" rx="0.9" fill="none" stroke="#262626" stroke-width="1"/>
<line x1="870.3" y1="654" x2="885.2" y2="654" stroke="#262626" stroke-width="2.2"/>
<rect x="961" y="598.9" width="14.4" height="91.2" fill="#fff" stroke="none"/>
<line x1="961.5" y1="598.9" x2="961.5" y2="690.1" stroke="#262626" stroke-width="1.1"/>
<line x1="975.5" y1="598.9" x2="975.5" y2="690.1" stroke="#262626" stroke-width="1.1"/>
<rect x="966.5" y="621.5" width="7" height="3" rx="0.9" fill="none" stroke="#262626" stroke-width="1"/>
<rect x="963.5" y="630.5" width="6" height="2" rx="0.9" fill="none" stroke="#262626" stroke-width="1"/>
<line x1="961" y1="654" x2="975.4" y2="654" stroke="#262626" stroke-width="2.2"/>
<path d="M1004.5,593.5 L1149,593.5 Q1151.5,593.5 1151.5,596 L1151.5,694 Q1151.5,696.5 1149,696.5 L1004.5,696.5 Z" fill="#fff" stroke="#262626" stroke-width="1"/>
<line x1="1004.2" y1="593.8" x2="1141.4" y2="593.8" stroke="#262626" stroke-width="1.4"/>
<line x1="1004.2" y1="696.2" x2="1141.4" y2="696.2" stroke="#262626" stroke-width="1.4"/>
<path d="M1005.4,600.5 L1006.6,600.5 Q1007.8,600.5 1007.8,601.7 L1007.8,632.3 Q1007.8,633.5 1006.6,633.5 L1005.4,633.5" fill="none" stroke="#262626" stroke-width="1"/>
<path d="M1005.4,599.5 C1007.6,610.4 1004.2,623.6 1005.8,634.5" fill="none" stroke="#333" stroke-width="0.9"/>
<path d="M1005.4,637.1 L1006.6,637.1 Q1007.8,637.1 1007.8,638.3 L1007.8,651.7 Q1007.8,652.9 1006.6,652.9 L1005.4,652.9" fill="none" stroke="#262626" stroke-width="1"/>
<path d="M1005.4,636.1 C1007.6,641.84 1004.2,648.16 1005.8,653.9" fill="none" stroke="#333" stroke-width="0.9"/>
<path d="M1005.4,656.9 L1006.6,656.9 Q1007.8,656.9 1007.8,658.1 L1007.8,688.3 Q1007.8,689.5 1006.6,689.5 L1005.4,689.5" fill="none" stroke="#262626" stroke-width="1"/>
<path d="M1005.4,655.9 C1007.6,666.68 1004.2,679.72 1005.8,690.5" fill="none" stroke="#333" stroke-width="0.9"/>
<rect x="1009.5" y="600.5" width="5" height="33" rx="1.4" fill="none" stroke="#262626" stroke-width="1"/>
<rect x="1016.5" y="600.5" width="5" height="33" rx="1.4" fill="none" stroke="#262626" stroke-width="1"/>
<rect x="1024.5" y="600.5" width="5" height="33" rx="1.4" fill="none" stroke="#262626" stroke-width="1"/>
<rect x="1031.5" y="600.5" width="5" height="33" rx="1.4" fill="none" stroke="#262626" stroke-width="1"/>
<rect x="1039.5" y="600.5" width="5" height="33" rx="1.4" fill="none" stroke="#262626" stroke-width="1"/>
<rect x="1047.5" y="600.5" width="5" height="33" rx="1.4" fill="none" stroke="#262626" stroke-width="1"/>
<rect x="1054.5" y="600.5" width="5" height="33" rx="1.4" fill="none" stroke="#262626" stroke-width="1"/>
<rect x="1062.5" y="600.5" width="5" height="33" rx="1.4" fill="none" stroke="#262626" stroke-width="1"/>
<rect x="1069.5" y="600.5" width="5" height="33" rx="1.4" fill="none" stroke="#262626" stroke-width="1"/>
<rect x="1077.5" y="600.5" width="5" height="33" rx="1.4" fill="none" stroke="#262626" stroke-width="1"/>
<rect x="1084.5" y="600.5" width="5" height="33" rx="1.4" fill="none" stroke="#262626" stroke-width="1"/>
<rect x="1092.5" y="600.5" width="5" height="33" rx="1.4" fill="none" stroke="#262626" stroke-width="1"/>
<rect x="1099.5" y="600.5" width="5" height="33" rx="1.4" fill="none" stroke="#262626" stroke-width="1"/>
<rect x="1107.5" y="600.5" width="5" height="33" rx="1.4" fill="none" stroke="#262626" stroke-width="1"/>
<rect x="1114.5" y="600.5" width="5" height="33" rx="1.4" fill="none" stroke="#262626" stroke-width="1"/>
<rect x="1122.5" y="600.5" width="5" height="33" rx="1.4" fill="none" stroke="#262626" stroke-width="1"/>
<rect x="1129.5" y="600.5" width="5" height="33" rx="1.4" fill="none" stroke="#262626" stroke-width="1"/>
<rect x="1009.5" y="637.5" width="5" height="15" rx="1.4" fill="none" stroke="#262626" stroke-width="1"/>
<rect x="1016.5" y="637.5" width="5" height="15" rx="1.4" fill="none" stroke="#262626" stroke-width="1"/>
<rect x="1024.5" y="637.5" width="5" height="15" rx="1.4" fill="none" stroke="#262626" stroke-width="1"/>
<rect x="1031.5" y="637.5" width="5" height="15" rx="1.4" fill="none" stroke="#262626" stroke-width="1"/>
<rect x="1039.5" y="637.5" width="5" height="15" rx="1.4" fill="none" stroke="#262626" stroke-width="1"/>
<rect x="1047.5" y="637.5" width="5" height="15" rx="1.4" fill="none" stroke="#262626" stroke-width="1"/>
<rect x="1054.5" y="637.5" width="5" height="15" rx="1.4" fill="none" stroke="#262626" stroke-width="1"/>
<rect x="1062.5" y="637.5" width="5" height="15" rx="1.4" fill="none" stroke="#262626" stroke-width="1"/>
<rect x="1069.5" y="637.5" width="5" height="15" rx="1.4" fill="none" stroke="#262626" stroke-width="1"/>
<rect x="1077.5" y="637.5" width="5" height="15" rx="1.4" fill="none" stroke="#262626" stroke-width="1"/>
<rect x="1084.5" y="637.5" width="5" height="15" rx="1.4" fill="none" stroke="#262626" stroke-width="1"/>
<rect x="1092.5" y="637.5" width="5" height="15" rx="1.4" fill="none" stroke="#262626" stroke-width="1"/>
<rect x="1099.5" y="637.5" width="5" height="15" rx="1.4" fill="none" stroke="#262626" stroke-width="1"/>
<rect x="1107.5" y="637.5" width="5" height="15" rx="1.4" fill="none" stroke="#262626" stroke-width="1"/>
<rect x="1114.5" y="637.5" width="5" height="15" rx="1.4" fill="none" stroke="#262626" stroke-width="1"/>
<rect x="1122.5" y="637.5" width="5" height="15" rx="1.4" fill="none" stroke="#262626" stroke-width="1"/>
<rect x="1129.5" y="637.5" width="5" height="15" rx="1.4" fill="none" stroke="#262626" stroke-width="1"/>
<rect x="1009.5" y="656.5" width="5" height="33" rx="1.4" fill="none" stroke="#262626" stroke-width="1"/>
<rect x="1016.5" y="656.5" width="5" height="33" rx="1.4" fill="none" stroke="#262626" stroke-width="1"/>
<rect x="1024.5" y="656.5" width="5" height="33" rx="1.4" fill="none" stroke="#262626" stroke-width="1"/>
<rect x="1031.5" y="656.5" width="5" height="33" rx="1.4" fill="none" stroke="#262626" stroke-width="1"/>
<rect x="1039.5" y="656.5" width="5" height="33" rx="1.4" fill="none" stroke="#262626" stroke-width="1"/>
<rect x="1047.5" y="656.5" width="5" height="33" rx="1.4" fill="none" stroke="#262626" stroke-width="1"/>
<rect x="1054.5" y="656.5" width="5" height="33" rx="1.4" fill="none" stroke="#262626" stroke-width="1"/>
<rect x="1062.5" y="656.5" width="5" height="33" rx="1.4" fill="none" stroke="#262626" stroke-width="1"/>
<rect x="1069.5" y="656.5" width="5" height="33" rx="1.4" fill="none" stroke="#262626" stroke-width="1"/>
<rect x="1077.5" y="656.5" width="5" height="33" rx="1.4" fill="none" stroke="#262626" stroke-width="1"/>
<rect x="1084.5" y="656.5" width="5" height="33" rx="1.4" fill="none" stroke="#262626" stroke-width="1"/>
<rect x="1092.5" y="656.5" width="5" height="33" rx="1.4" fill="none" stroke="#262626" stroke-width="1"/>
<rect x="1099.5" y="656.5" width="5" height="33" rx="1.4" fill="none" stroke="#262626" stroke-width="1"/>
<rect x="1107.5" y="656.5" width="5" height="33" rx="1.4" fill="none" stroke="#262626" stroke-width="1"/>
<rect x="1114.5" y="656.5" width="5" height="33" rx="1.4" fill="none" stroke="#262626" stroke-width="1"/>
<rect x="1122.5" y="656.5" width="5" height="33" rx="1.4" fill="none" stroke="#262626" stroke-width="1"/>
<rect x="1129.5" y="656.5" width="5" height="33" rx="1.4" fill="none" stroke="#262626" stroke-width="1"/>
<ellipse cx="1143.3" cy="645" rx="2.5" ry="1.95" fill="none" stroke="#262626" stroke-width="1"/>
<text transform="translate(34,28.75) scale(1,1.03)" font-size="19">VK</text>
<text transform="translate(700.5,28.9) scale(1,1.03)" font-size="19">K</text>
<text transform="translate(34,79.4) scale(1,1.03)" font-size="19">Тип </text>
<path transform="translate(71.79,79.4) scale(0.00928,-0.00956)" d="M763 0H583V1147Q518 1085 412.5 1023T223 930V1104Q374 1175 487 1276T647 1472H763V0Z" fill="#141414"/>
<text transform="translate(82.35,79.4) scale(1,1.03)" font-size="19">0</text>
<text transform="translate(34,148.67) scale(1,1.03)" font-size="19">Тип </text>
<path transform="translate(71.79,148.67) scale(0.00928,-0.00956)" d="M763 0H583V1147Q518 1085 412.5 1023T223 930V1104Q374 1175 487 1276T647 1472H763V0Z" fill="#141414"/>
<path transform="translate(80.94,148.67) scale(0.00928,-0.00956)" d="M763 0H583V1147Q518 1085 412.5 1023T223 930V1104Q374 1175 487 1276T647 1472H763V0Z" fill="#141414"/>
<text transform="translate(34,232) scale(1,1.03)" font-size="19">Тип 20</text>
<text transform="translate(34,318.8) scale(1,1.03)" font-size="19">Тип 2</text>
<path transform="translate(82.35,318.8) scale(0.00928,-0.00956)" d="M763 0H583V1147Q518 1085 412.5 1023T223 930V1104Q374 1175 487 1276T647 1472H763V0Z" fill="#141414"/>
<text transform="translate(34,399.1) scale(1,1.03)" font-size="19">Тип 22</text>
<text transform="translate(34,521.8) scale(1,1.03)" font-size="19">Тип 30</text>
<text transform="translate(34,654.8) scale(1,1.03)" font-size="19">Тип 33</text>
<text transform="translate(700.3,78.6) scale(1,1.03)" font-size="19">Тип </text>
<path transform="translate(738.09,78.6) scale(0.00928,-0.00956)" d="M763 0H583V1147Q518 1085 412.5 1023T223 930V1104Q374 1175 487 1276T647 1472H763V0Z" fill="#141414"/>
<text transform="translate(748.65,78.6) scale(1,1.03)" font-size="19">0</text>
<text transform="translate(700.3,148.3) scale(1,1.03)" font-size="19">Тип </text>
<path transform="translate(738.09,148.3) scale(0.00928,-0.00956)" d="M763 0H583V1147Q518 1085 412.5 1023T223 930V1104Q374 1175 487 1276T647 1472H763V0Z" fill="#141414"/>
<path transform="translate(747.24,148.3) scale(0.00928,-0.00956)" d="M763 0H583V1147Q518 1085 412.5 1023T223 930V1104Q374 1175 487 1276T647 1472H763V0Z" fill="#141414"/>
<text transform="translate(700.3,231.5) scale(1,1.03)" font-size="19">Тип 20</text>
<text transform="translate(700.3,319.3) scale(1,1.03)" font-size="19">Тип 2</text>
<path transform="translate(748.65,319.3) scale(0.00928,-0.00956)" d="M763 0H583V1147Q518 1085 412.5 1023T223 930V1104Q374 1175 487 1276T647 1472H763V0Z" fill="#141414"/>
<text transform="translate(700.3,405) scale(1,1.03)" font-size="19">Тип 22</text>
<text transform="translate(700.3,521) scale(1,1.03)" font-size="19">Тип 30</text>
<text transform="translate(700.3,654.6) scale(1,1.03)" font-size="19">Тип 33</text>
<path transform="translate(551.6,73.8) scale(0.00757,-0.00817)" d="M763 0H583V1147Q518 1085 412.5 1023T223 930V1104Q374 1175 487 1276T647 1472H763V0Z" fill="#141414"/>
<text transform="translate(560.22,73.8) scale(1,1.08)" font-size="15.5">)</text>
</svg>
</body></html>
